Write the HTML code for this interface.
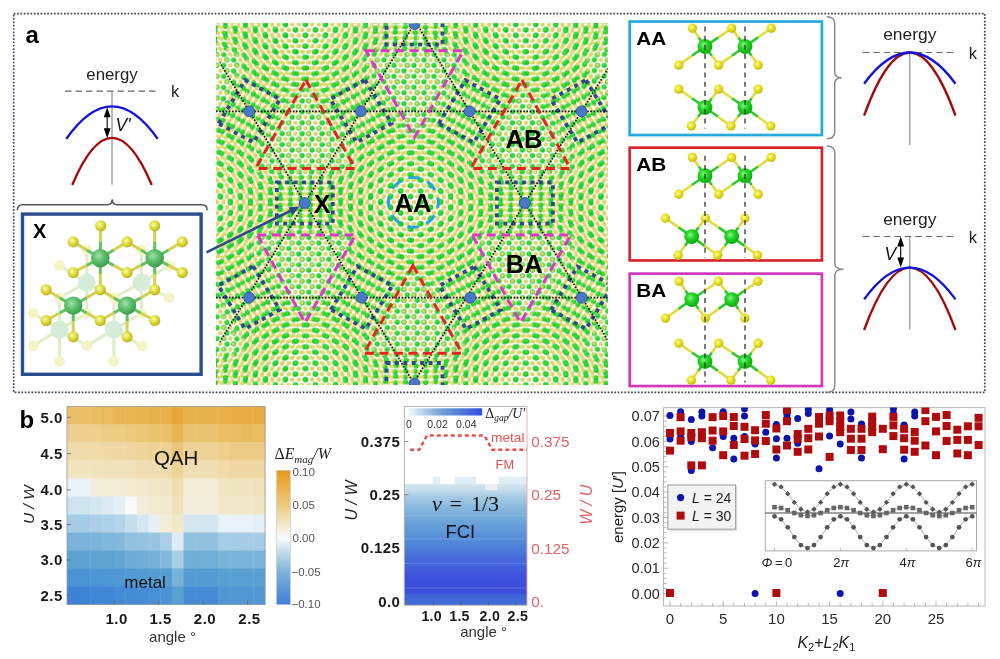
<!DOCTYPE html>
<html><head><meta charset="utf-8"><style>
html,body{margin:0;padding:0;background:#fff;width:1000px;height:659px;overflow:hidden}
svg{display:block;will-change:transform;filter:blur(0.3px)}
</style></head><body>
<svg width="1000" height="659" viewBox="0 0 1000 659">
<rect width="1000" height="659" fill="#fff"/>
<defs><radialGradient id="sg" cx="0.4" cy="0.38" r="0.62"><stop offset="0" stop-color="#8cf08c"/><stop offset="0.45" stop-color="#22d622"/><stop offset="1" stop-color="#12a812"/></radialGradient><radialGradient id="sy" cx="0.4" cy="0.38" r="0.62"><stop offset="0" stop-color="#fdfaa8"/><stop offset="0.45" stop-color="#ece426"/><stop offset="1" stop-color="#c4bc10"/></radialGradient><radialGradient id="xg" cx="0.4" cy="0.38" r="0.62"><stop offset="0" stop-color="#a4e0ac"/><stop offset="0.5" stop-color="#5ec06c"/><stop offset="1" stop-color="#3f9c4e"/></radialGradient><radialGradient id="xy" cx="0.4" cy="0.38" r="0.62"><stop offset="0" stop-color="#fafab0"/><stop offset="0.5" stop-color="#e0de40"/><stop offset="1" stop-color="#bab41c"/></radialGradient></defs>
<rect x="13.7" y="13.6" width="971.1" height="378.7" fill="none" stroke="#3d4756" stroke-width="1.7" stroke-dasharray="1.7 1.65"/>
<text x="25.5" y="42.8" font-size="24" font-family='"Liberation Sans", sans-serif' font-weight="bold" fill="#000">a</text>
<text x="112" y="79.6" font-size="16.8" font-family='"Liberation Sans", sans-serif' text-anchor="middle" fill="#222">energy</text><line x1="65" y1="91.1" x2="159" y2="91.1" stroke="#666" stroke-width="1.1" stroke-dasharray="6.5 4"/><text x="171" y="97.3" font-size="16.5" font-family='"Liberation Sans", sans-serif' fill="#222">k</text><line x1="112" y1="91.1" x2="112" y2="184.8" stroke="#777" stroke-width="1"/><path d="M72.2,185 Q112,90.80000000000001 151.8,185" fill="none" stroke="#a00c0c" stroke-width="2.4" stroke-linecap="butt"/><path d="M66.3,138.9 Q112,73.9 157.7,138.9" fill="none" stroke="#1414d8" stroke-width="2.4" stroke-linecap="butt"/><line x1="107.2" y1="115.2" x2="107.2" y2="130.2" stroke="#000" stroke-width="1.1"/><path d="M107.2,107.2 L103.8,117.2 L110.60000000000001,117.2Z M107.2,138.2 L103.8,128.2 L110.60000000000001,128.2Z" fill="#000"/><text x="115.5" y="130.5" font-size="17.5" font-family='"Liberation Sans", sans-serif' font-style="italic" fill="#111">V'</text>
<text x="909.8" y="40.3" font-size="17.4" font-family='"Liberation Sans", sans-serif' text-anchor="middle" fill="#222">energy</text><line x1="862.8" y1="52.5" x2="956.8" y2="52.5" stroke="#666" stroke-width="1.1" stroke-dasharray="6.5 4"/><text x="968.8" y="58.7" font-size="16.5" font-family='"Liberation Sans", sans-serif' fill="#222">k</text><line x1="909.8" y1="52.5" x2="909.8" y2="145.3" stroke="#777" stroke-width="1"/><path d="M864.0999999999999,115.6 Q909.8,-10.599999999999994 955.5,115.6" fill="none" stroke="#a00c0c" stroke-width="2.4" stroke-linecap="butt"/><path d="M864.0999999999999,83.7 Q909.8,21.299999999999997 955.5,83.7" fill="none" stroke="#1414d8" stroke-width="2.4" stroke-linecap="butt"/>
<text x="909.8" y="224.5" font-size="17.4" font-family='"Liberation Sans", sans-serif' text-anchor="middle" fill="#222">energy</text><line x1="862.8" y1="236.5" x2="956.8" y2="236.5" stroke="#666" stroke-width="1.1" stroke-dasharray="6.5 4"/><text x="968.8" y="242.7" font-size="16.5" font-family='"Liberation Sans", sans-serif' fill="#222">k</text><line x1="909.8" y1="236.5" x2="909.8" y2="329.6" stroke="#777" stroke-width="1"/><path d="M864.0999999999999,330 Q909.8,205.20000000000005 955.5,330" fill="none" stroke="#a00c0c" stroke-width="2.4" stroke-linecap="butt"/><path d="M864.0999999999999,299.4 Q909.8,235.80000000000007 955.5,299.4" fill="none" stroke="#1414d8" stroke-width="2.4" stroke-linecap="butt"/><line x1="900.7" y1="244.5" x2="900.7" y2="259.6" stroke="#000" stroke-width="1.1"/><path d="M900.7,236.5 L897.3000000000001,246.5 L904.1,246.5Z M900.7,267.6 L897.3000000000001,257.6 L904.1,257.6Z" fill="#000"/><text x="884.5" y="260" font-size="17.5" font-family='"Liberation Sans", sans-serif' font-style="italic" fill="#111">V</text>
<path d="M17.4,210.3 Q17.4,204.8 22.4,204.8 L107.25,204.8 Q112.25,204.8 112.25,199.3 Q112.25,204.8 117.25,204.8 L202.1,204.8 Q207.1,204.8 207.1,210.3" fill="none" stroke="#555" stroke-width="1.5"/>
<path d="M826.7,16.8 Q834.7,16.8 834.7,23.8 L834.7,71.75 Q834.7,77.75 841.6,77.75 Q834.7,77.75 834.7,83.75 L834.7,131.7 Q834.7,138.7 826.7,138.7" fill="none" stroke="#8a8a8a" stroke-width="1.5"/>
<path d="M826.8,145.9 Q834.8,145.9 834.8,152.9 L834.8,263.2 Q834.8,269.2 843.4,269.2 Q834.8,269.2 834.8,275.2 L834.8,385.5 Q834.8,392.5 826.8,392.5" fill="none" stroke="#8a8a8a" stroke-width="1.5"/>
<rect x="22.5" y="214.1" width="178.6" height="160.2" fill="#fff" stroke="#2b4d8f" stroke-width="3.4"/>
<text x="33.0" y="237.6" font-size="20" font-family='"Liberation Sans", sans-serif' font-weight="bold" fill="#000">X</text>
<line x1="86.8" y1="282.6" x2="59.5" y2="265.4" stroke="#dfeec8" stroke-width="3"/><line x1="86.8" y1="282.6" x2="86.8" y2="249.8" stroke="#dfeec8" stroke-width="3"/><line x1="86.8" y1="282.6" x2="59.5" y2="297.7" stroke="#dfeec8" stroke-width="3"/><line x1="86.8" y1="282.6" x2="113.9" y2="297.7" stroke="#dfeec8" stroke-width="3"/><line x1="86.8" y1="282.6" x2="86.8" y2="313.3" stroke="#dfeec8" stroke-width="3"/><line x1="141.5" y1="282.6" x2="169.1" y2="297.7" stroke="#dfeec8" stroke-width="3"/><line x1="141.5" y1="282.6" x2="141.5" y2="249.8" stroke="#dfeec8" stroke-width="3"/><line x1="141.5" y1="282.6" x2="113.9" y2="297.7" stroke="#dfeec8" stroke-width="3"/><line x1="141.5" y1="282.6" x2="169.1" y2="265.4" stroke="#dfeec8" stroke-width="3"/><line x1="141.5" y1="282.6" x2="141.5" y2="313.3" stroke="#dfeec8" stroke-width="3"/><line x1="59.5" y1="329.6" x2="33.1" y2="313.3" stroke="#dfeec8" stroke-width="3"/><line x1="59.5" y1="329.6" x2="33.1" y2="345.7" stroke="#dfeec8" stroke-width="3"/><line x1="59.5" y1="329.6" x2="86.8" y2="345.7" stroke="#dfeec8" stroke-width="3"/><line x1="59.5" y1="329.6" x2="59.5" y2="361.3" stroke="#dfeec8" stroke-width="3"/><line x1="59.5" y1="329.6" x2="59.5" y2="297.7" stroke="#dfeec8" stroke-width="3"/><line x1="59.5" y1="329.6" x2="86.8" y2="313.3" stroke="#dfeec8" stroke-width="3"/><line x1="113.9" y1="329.6" x2="86.8" y2="345.7" stroke="#dfeec8" stroke-width="3"/><line x1="113.9" y1="329.6" x2="141.5" y2="345.7" stroke="#dfeec8" stroke-width="3"/><line x1="113.9" y1="329.6" x2="113.9" y2="361.3" stroke="#dfeec8" stroke-width="3"/><line x1="113.9" y1="329.6" x2="113.9" y2="297.7" stroke="#dfeec8" stroke-width="3"/><line x1="113.9" y1="329.6" x2="86.8" y2="313.3" stroke="#dfeec8" stroke-width="3"/><line x1="113.9" y1="329.6" x2="141.5" y2="313.3" stroke="#dfeec8" stroke-width="3"/><circle cx="59.5" cy="265.4" r="5.3" fill="#f4f4c4" opacity="1.0"/><circle cx="86.8" cy="249.8" r="5.3" fill="#f4f4c4" opacity="1.0"/><circle cx="169.1" cy="297.7" r="5.3" fill="#f4f4c4" opacity="1.0"/><circle cx="33.1" cy="313.3" r="5.3" fill="#f4f4c4" opacity="1.0"/><circle cx="33.1" cy="345.7" r="5.3" fill="#f4f4c4" opacity="1.0"/><circle cx="86.8" cy="345.7" r="5.3" fill="#f4f4c4" opacity="1.0"/><circle cx="141.5" cy="345.7" r="5.3" fill="#f4f4c4" opacity="1.0"/><circle cx="59.5" cy="361.3" r="5.3" fill="#f4f4c4" opacity="1.0"/><circle cx="113.9" cy="361.3" r="5.3" fill="#f4f4c4" opacity="1.0"/><circle cx="141.5" cy="249.8" r="5.3" fill="#f4f4c4" opacity="1.0"/><circle cx="59.5" cy="297.7" r="5.3" fill="#f4f4c4" opacity="1.0"/><circle cx="113.9" cy="297.7" r="5.3" fill="#f4f4c4" opacity="1.0"/><circle cx="169.1" cy="265.4" r="5.3" fill="#f4f4c4" opacity="1.0"/><circle cx="86.8" cy="313.3" r="5.3" fill="#f4f4c4" opacity="1.0"/><circle cx="141.5" cy="313.3" r="5.3" fill="#f4f4c4" opacity="1.0"/><circle cx="86.8" cy="282.6" r="9" fill="#d4ecd8" opacity="1.0"/><circle cx="141.5" cy="282.6" r="9" fill="#d4ecd8" opacity="1.0"/><circle cx="59.5" cy="329.6" r="9" fill="#d4ecd8" opacity="1.0"/><circle cx="113.9" cy="329.6" r="9" fill="#d4ecd8" opacity="1.0"/><line x1="100.3" y1="258.2" x2="100.5" y2="242.0" stroke="#62c262" stroke-width="3"/><line x1="100.5" y1="242.0" x2="100.7" y2="225.8" stroke="#d4d050" stroke-width="3"/><line x1="100.3" y1="258.2" x2="86.75" y2="250.05" stroke="#62c262" stroke-width="3"/><line x1="86.75" y1="250.05" x2="73.2" y2="241.9" stroke="#d4d050" stroke-width="3"/><line x1="100.3" y1="258.2" x2="113.69999999999999" y2="250.05" stroke="#62c262" stroke-width="3"/><line x1="113.69999999999999" y1="250.05" x2="127.1" y2="241.9" stroke="#d4d050" stroke-width="3"/><line x1="100.3" y1="258.2" x2="86.75" y2="265.4" stroke="#62c262" stroke-width="3"/><line x1="86.75" y1="265.4" x2="73.2" y2="272.6" stroke="#d4d050" stroke-width="3"/><line x1="100.3" y1="258.2" x2="113.69999999999999" y2="265.4" stroke="#62c262" stroke-width="3"/><line x1="113.69999999999999" y1="265.4" x2="127.1" y2="272.6" stroke="#d4d050" stroke-width="3"/><line x1="100.3" y1="258.2" x2="100.3" y2="274.0" stroke="#62c262" stroke-width="3"/><line x1="100.3" y1="274.0" x2="100.3" y2="289.8" stroke="#d4d050" stroke-width="3"/><line x1="154.7" y1="258.2" x2="154.7" y2="242.0" stroke="#62c262" stroke-width="3"/><line x1="154.7" y1="242.0" x2="154.7" y2="225.8" stroke="#d4d050" stroke-width="3"/><line x1="154.7" y1="258.2" x2="140.89999999999998" y2="250.05" stroke="#62c262" stroke-width="3"/><line x1="140.89999999999998" y1="250.05" x2="127.1" y2="241.9" stroke="#d4d050" stroke-width="3"/><line x1="154.7" y1="258.2" x2="168.5" y2="250.05" stroke="#62c262" stroke-width="3"/><line x1="168.5" y1="250.05" x2="182.3" y2="241.9" stroke="#d4d050" stroke-width="3"/><line x1="154.7" y1="258.2" x2="140.89999999999998" y2="265.4" stroke="#62c262" stroke-width="3"/><line x1="140.89999999999998" y1="265.4" x2="127.1" y2="272.6" stroke="#d4d050" stroke-width="3"/><line x1="154.7" y1="258.2" x2="168.5" y2="265.4" stroke="#62c262" stroke-width="3"/><line x1="168.5" y1="265.4" x2="182.3" y2="272.6" stroke="#d4d050" stroke-width="3"/><line x1="154.7" y1="258.2" x2="154.7" y2="274.0" stroke="#62c262" stroke-width="3"/><line x1="154.7" y1="274.0" x2="154.7" y2="289.8" stroke="#d4d050" stroke-width="3"/><line x1="73.2" y1="305.6" x2="86.75" y2="297.70000000000005" stroke="#62c262" stroke-width="3"/><line x1="86.75" y1="297.70000000000005" x2="100.3" y2="289.8" stroke="#d4d050" stroke-width="3"/><line x1="73.2" y1="305.6" x2="59.650000000000006" y2="297.70000000000005" stroke="#62c262" stroke-width="3"/><line x1="59.650000000000006" y1="297.70000000000005" x2="46.1" y2="289.8" stroke="#d4d050" stroke-width="3"/><line x1="73.2" y1="305.6" x2="59.650000000000006" y2="313.05" stroke="#62c262" stroke-width="3"/><line x1="59.650000000000006" y1="313.05" x2="46.1" y2="320.5" stroke="#d4d050" stroke-width="3"/><line x1="73.2" y1="305.6" x2="86.75" y2="313.05" stroke="#62c262" stroke-width="3"/><line x1="86.75" y1="313.05" x2="100.3" y2="320.5" stroke="#d4d050" stroke-width="3"/><line x1="73.2" y1="305.6" x2="73.2" y2="321.20000000000005" stroke="#62c262" stroke-width="3"/><line x1="73.2" y1="321.20000000000005" x2="73.2" y2="336.8" stroke="#d4d050" stroke-width="3"/><line x1="127.1" y1="305.6" x2="113.69999999999999" y2="297.70000000000005" stroke="#62c262" stroke-width="3"/><line x1="113.69999999999999" y1="297.70000000000005" x2="100.3" y2="289.8" stroke="#d4d050" stroke-width="3"/><line x1="127.1" y1="305.6" x2="140.89999999999998" y2="297.70000000000005" stroke="#62c262" stroke-width="3"/><line x1="140.89999999999998" y1="297.70000000000005" x2="154.7" y2="289.8" stroke="#d4d050" stroke-width="3"/><line x1="127.1" y1="305.6" x2="113.69999999999999" y2="313.05" stroke="#62c262" stroke-width="3"/><line x1="113.69999999999999" y1="313.05" x2="100.3" y2="320.5" stroke="#d4d050" stroke-width="3"/><line x1="127.1" y1="305.6" x2="140.89999999999998" y2="313.05" stroke="#62c262" stroke-width="3"/><line x1="140.89999999999998" y1="313.05" x2="154.7" y2="320.5" stroke="#d4d050" stroke-width="3"/><line x1="127.1" y1="305.6" x2="127.1" y2="321.20000000000005" stroke="#62c262" stroke-width="3"/><line x1="127.1" y1="321.20000000000005" x2="127.1" y2="336.8" stroke="#d4d050" stroke-width="3"/><circle cx="100.7" cy="225.8" r="5.6" fill="url(#xy)" opacity="1.0"/><circle cx="154.7" cy="225.8" r="5.6" fill="url(#xy)" opacity="1.0"/><circle cx="73.2" cy="241.9" r="5.6" fill="url(#xy)" opacity="1.0"/><circle cx="127.1" cy="241.9" r="5.6" fill="url(#xy)" opacity="1.0"/><circle cx="182.3" cy="241.9" r="5.6" fill="url(#xy)" opacity="1.0"/><circle cx="73.2" cy="272.6" r="5.6" fill="url(#xy)" opacity="1.0"/><circle cx="127.1" cy="272.6" r="5.6" fill="url(#xy)" opacity="1.0"/><circle cx="182.3" cy="272.6" r="5.6" fill="url(#xy)" opacity="1.0"/><circle cx="100.3" cy="289.8" r="5.6" fill="url(#xy)" opacity="1.0"/><circle cx="154.7" cy="289.8" r="5.6" fill="url(#xy)" opacity="1.0"/><circle cx="46.1" cy="289.8" r="5.6" fill="url(#xy)" opacity="1.0"/><circle cx="46.1" cy="320.5" r="5.6" fill="url(#xy)" opacity="1.0"/><circle cx="100.3" cy="320.5" r="5.6" fill="url(#xy)" opacity="1.0"/><circle cx="154.7" cy="320.5" r="5.6" fill="url(#xy)" opacity="1.0"/><circle cx="73.2" cy="336.8" r="5.6" fill="url(#xy)" opacity="1.0"/><circle cx="127.1" cy="336.8" r="5.6" fill="url(#xy)" opacity="1.0"/><circle cx="100.3" cy="258.2" r="9.2" fill="url(#xg)" opacity="1.0"/><circle cx="154.7" cy="258.2" r="9.2" fill="url(#xg)" opacity="1.0"/><circle cx="73.2" cy="305.6" r="9.2" fill="url(#xg)" opacity="1.0"/><circle cx="127.1" cy="305.6" r="9.2" fill="url(#xg)" opacity="1.0"/>
<defs><radialGradient id="gy" cx="0.42" cy="0.4" r="0.6"><stop offset="0" stop-color="#e8e290"/><stop offset="0.55" stop-color="#dcd25a"/><stop offset="1" stop-color="#d2c84a"/></radialGradient><radialGradient id="gg" cx="0.42" cy="0.4" r="0.6"><stop offset="0" stop-color="#4cec52"/><stop offset="0.5" stop-color="#22d62a"/><stop offset="1" stop-color="#16b81e"/></radialGradient><pattern id="ml0" patternUnits="userSpaceOnUse" width="20.0225" height="11.5600" patternTransform="translate(414.8,203.0) rotate(-1.4987) translate(5.8,-1.14)"><circle cx="6.674" cy="0.000" r="1.95" fill="url(#gy)"/><circle cx="6.674" cy="11.560" r="1.95" fill="url(#gy)"/><circle cx="16.685" cy="5.780" r="1.95" fill="url(#gy)"/><circle cx="0.000" cy="0.000" r="2.6" fill="url(#gg)"/><circle cx="0.000" cy="11.560" r="2.6" fill="url(#gg)"/><circle cx="20.023" cy="0.000" r="2.6" fill="url(#gg)"/><circle cx="20.023" cy="11.560" r="2.6" fill="url(#gg)"/><circle cx="10.011" cy="5.780" r="2.6" fill="url(#gg)"/><circle cx="3.337" cy="5.780" r="1.95" fill="url(#gy)"/><circle cx="13.348" cy="0.000" r="1.95" fill="url(#gy)"/><circle cx="13.348" cy="11.560" r="1.95" fill="url(#gy)"/></pattern><pattern id="ml1" patternUnits="userSpaceOnUse" width="20.0225" height="11.5600" patternTransform="translate(414.8,203.0) rotate(1.4987) translate(5.8,-1.14)"><circle cx="6.674" cy="0.000" r="1.95" fill="url(#gy)"/><circle cx="6.674" cy="11.560" r="1.95" fill="url(#gy)"/><circle cx="16.685" cy="5.780" r="1.95" fill="url(#gy)"/><circle cx="0.000" cy="0.000" r="2.6" fill="url(#gg)"/><circle cx="0.000" cy="11.560" r="2.6" fill="url(#gg)"/><circle cx="20.023" cy="0.000" r="2.6" fill="url(#gg)"/><circle cx="20.023" cy="11.560" r="2.6" fill="url(#gg)"/><circle cx="10.011" cy="5.780" r="2.6" fill="url(#gg)"/><circle cx="3.337" cy="5.780" r="1.95" fill="url(#gy)"/><circle cx="13.348" cy="0.000" r="1.95" fill="url(#gy)"/><circle cx="13.348" cy="11.560" r="1.95" fill="url(#gy)"/></pattern><filter id="mblur" x="-5%" y="-5%" width="110%" height="110%"><feGaussianBlur stdDeviation="0.7"/></filter><clipPath id="mc"><rect x="216" y="23.6" width="391.5" height="361.4"/></clipPath><clipPath id="kc"><rect x="219.6" y="20" width="392" height="370"/></clipPath></defs>
<g clip-path="url(#mc)">
<g transform="translate(0,203.0) scale(1,0.945) translate(0,-203.0)">
<defs><filter id="dfe" x="-20%" y="-20%" width="140%" height="140%"><feGaussianBlur stdDeviation="5"/></filter><g id="dcell"><circle cx="6.67" cy="0.00" r="1.95" fill="url(#gy)"/><circle cx="6.67" cy="11.56" r="1.95" fill="url(#gy)"/><circle cx="16.69" cy="5.78" r="1.95" fill="url(#gy)"/><circle cx="0.00" cy="0.00" r="2.6" fill="url(#gg)"/><circle cx="0.00" cy="11.56" r="2.6" fill="url(#gg)"/><circle cx="20.02" cy="0.00" r="2.6" fill="url(#gg)"/><circle cx="20.02" cy="11.56" r="2.6" fill="url(#gg)"/><circle cx="10.01" cy="5.78" r="2.6" fill="url(#gg)"/><circle cx="3.34" cy="5.78" r="1.95" fill="url(#gy)"/><circle cx="13.35" cy="0.00" r="1.95" fill="url(#gy)"/><circle cx="13.35" cy="11.56" r="1.95" fill="url(#gy)"/></g><mask id="dm0" maskUnits="userSpaceOnUse" x="44" y="-75" width="300" height="300"><polygon points="141.9,45.4 245.7,45.4 193.8,135.4" fill="#fff" filter="url(#dfe)"/></mask><pattern id="dp0_0" patternUnits="userSpaceOnUse" width="20.0225" height="11.5600" patternTransform="translate(417.187,207.596)"><use href="#dcell"/></pattern><pattern id="dp0_1" patternUnits="userSpaceOnUse" width="20.0225" height="11.5600" patternTransform="translate(423.861,196.036)"><use href="#dcell"/></pattern><mask id="dm1" maskUnits="userSpaceOnUse" x="44" y="181" width="300" height="300"><polygon points="141.9,360.6 245.7,360.6 193.8,270.6" fill="#fff" filter="url(#dfe)"/></mask><pattern id="dp1_0" patternUnits="userSpaceOnUse" width="20.0225" height="11.5600" patternTransform="translate(423.861,207.684)"><use href="#dcell"/></pattern><pattern id="dp1_1" patternUnits="userSpaceOnUse" width="20.0225" height="11.5600" patternTransform="translate(417.187,196.124)"><use href="#dcell"/></pattern><mask id="dm2" maskUnits="userSpaceOnUse" x="154" y="-11" width="300" height="300"><polygon points="252.4,169.2 356.2,169.2 304.3,79.2" fill="#fff" filter="url(#dfe)"/></mask><pattern id="dp2_0" patternUnits="userSpaceOnUse" width="20.0225" height="11.5600" patternTransform="translate(418.894,204.728)"><use href="#dcell"/></pattern><pattern id="dp2_1" patternUnits="userSpaceOnUse" width="20.0225" height="11.5600" patternTransform="translate(422.231,198.948)"><use href="#dcell"/></pattern><mask id="dm3" maskUnits="userSpaceOnUse" x="154" y="117" width="300" height="300"><polygon points="252.4,236.8 356.2,236.8 304.3,326.8" fill="#fff" filter="url(#dfe)"/></mask><pattern id="dp3_0" patternUnits="userSpaceOnUse" width="20.0225" height="11.5600" patternTransform="translate(422.231,204.772)"><use href="#dcell"/></pattern><pattern id="dp3_1" patternUnits="userSpaceOnUse" width="20.0225" height="11.5600" patternTransform="translate(418.894,198.992)"><use href="#dcell"/></pattern><mask id="dm4" maskUnits="userSpaceOnUse" x="265" y="-75" width="300" height="300"><polygon points="362.9,45.4 466.7,45.4 414.8,135.4" fill="#fff" filter="url(#dfe)"/></mask><pattern id="dp4_0" patternUnits="userSpaceOnUse" width="20.0225" height="11.5600" patternTransform="translate(417.263,201.816)"><use href="#dcell"/></pattern><pattern id="dp4_1" patternUnits="userSpaceOnUse" width="20.0225" height="11.5600" patternTransform="translate(423.937,201.816)"><use href="#dcell"/></pattern><mask id="dm5" maskUnits="userSpaceOnUse" x="265" y="181" width="300" height="300"><polygon points="362.9,360.6 466.7,360.6 414.8,270.6" fill="#fff" filter="url(#dfe)"/></mask><pattern id="dp5_0" patternUnits="userSpaceOnUse" width="20.0225" height="11.5600" patternTransform="translate(423.937,201.904)"><use href="#dcell"/></pattern><pattern id="dp5_1" patternUnits="userSpaceOnUse" width="20.0225" height="11.5600" patternTransform="translate(417.263,201.904)"><use href="#dcell"/></pattern><mask id="dm6" maskUnits="userSpaceOnUse" x="375" y="-11" width="300" height="300"><polygon points="473.4,169.2 577.2,169.2 525.3,79.2" fill="#fff" filter="url(#dfe)"/></mask><pattern id="dp6_0" patternUnits="userSpaceOnUse" width="20.0225" height="11.5600" patternTransform="translate(418.969,198.948)"><use href="#dcell"/></pattern><pattern id="dp6_1" patternUnits="userSpaceOnUse" width="20.0225" height="11.5600" patternTransform="translate(422.306,204.728)"><use href="#dcell"/></pattern><mask id="dm7" maskUnits="userSpaceOnUse" x="375" y="117" width="300" height="300"><polygon points="473.4,236.8 577.2,236.8 525.3,326.8" fill="#fff" filter="url(#dfe)"/></mask><pattern id="dp7_0" patternUnits="userSpaceOnUse" width="20.0225" height="11.5600" patternTransform="translate(422.306,198.992)"><use href="#dcell"/></pattern><pattern id="dp7_1" patternUnits="userSpaceOnUse" width="20.0225" height="11.5600" patternTransform="translate(418.969,204.772)"><use href="#dcell"/></pattern><mask id="dm8" maskUnits="userSpaceOnUse" x="486" y="-75" width="300" height="300"><polygon points="583.9,45.4 687.7,45.4 635.8,135.4" fill="#fff" filter="url(#dfe)"/></mask><pattern id="dp8_0" patternUnits="userSpaceOnUse" width="20.0225" height="11.5600" patternTransform="translate(417.339,196.036)"><use href="#dcell"/></pattern><pattern id="dp8_1" patternUnits="userSpaceOnUse" width="20.0225" height="11.5600" patternTransform="translate(424.013,207.596)"><use href="#dcell"/></pattern><mask id="dm9" maskUnits="userSpaceOnUse" x="486" y="181" width="300" height="300"><polygon points="583.9,360.6 687.7,360.6 635.8,270.6" fill="#fff" filter="url(#dfe)"/></mask><pattern id="dp9_0" patternUnits="userSpaceOnUse" width="20.0225" height="11.5600" patternTransform="translate(424.013,196.124)"><use href="#dcell"/></pattern><pattern id="dp9_1" patternUnits="userSpaceOnUse" width="20.0225" height="11.5600" patternTransform="translate(417.339,207.684)"><use href="#dcell"/></pattern></defs>
<g filter="url(#mblur)"><rect x="200" y="-10" width="430" height="420" fill="url(#ml0)"/><rect x="200" y="-10" width="430" height="420" fill="url(#ml1)"/><g mask="url(#dm0)"><rect x="84" y="-35" width="220" height="220" fill="#fff"/><rect x="84" y="-35" width="220" height="220" fill="url(#dp0_0)"/><rect x="84" y="-35" width="220" height="220" fill="url(#dp0_1)"/></g><g mask="url(#dm1)"><rect x="84" y="221" width="220" height="220" fill="#fff"/><rect x="84" y="221" width="220" height="220" fill="url(#dp1_0)"/><rect x="84" y="221" width="220" height="220" fill="url(#dp1_1)"/></g><g mask="url(#dm2)"><rect x="194" y="29" width="220" height="220" fill="#fff"/><rect x="194" y="29" width="220" height="220" fill="url(#dp2_0)"/><rect x="194" y="29" width="220" height="220" fill="url(#dp2_1)"/></g><g mask="url(#dm3)"><rect x="194" y="157" width="220" height="220" fill="#fff"/><rect x="194" y="157" width="220" height="220" fill="url(#dp3_0)"/><rect x="194" y="157" width="220" height="220" fill="url(#dp3_1)"/></g><g mask="url(#dm4)"><rect x="305" y="-35" width="220" height="220" fill="#fff"/><rect x="305" y="-35" width="220" height="220" fill="url(#dp4_0)"/><rect x="305" y="-35" width="220" height="220" fill="url(#dp4_1)"/></g><g mask="url(#dm5)"><rect x="305" y="221" width="220" height="220" fill="#fff"/><rect x="305" y="221" width="220" height="220" fill="url(#dp5_0)"/><rect x="305" y="221" width="220" height="220" fill="url(#dp5_1)"/></g><g mask="url(#dm6)"><rect x="415" y="29" width="220" height="220" fill="#fff"/><rect x="415" y="29" width="220" height="220" fill="url(#dp6_0)"/><rect x="415" y="29" width="220" height="220" fill="url(#dp6_1)"/></g><g mask="url(#dm7)"><rect x="415" y="157" width="220" height="220" fill="#fff"/><rect x="415" y="157" width="220" height="220" fill="url(#dp7_0)"/><rect x="415" y="157" width="220" height="220" fill="url(#dp7_1)"/></g><g mask="url(#dm8)"><rect x="526" y="-35" width="220" height="220" fill="#fff"/><rect x="526" y="-35" width="220" height="220" fill="url(#dp8_0)"/><rect x="526" y="-35" width="220" height="220" fill="url(#dp8_1)"/></g><g mask="url(#dm9)"><rect x="526" y="221" width="220" height="220" fill="#fff"/><rect x="526" y="221" width="220" height="220" fill="url(#dp9_0)"/><rect x="526" y="221" width="220" height="220" fill="url(#dp9_1)"/></g></g>
</g>
<path d="M218.6,123.4 L245.1,80.1 L280.0,99.2 L253.5,142.5Z" fill="none" stroke="#2b4a86" stroke-width="3.8" stroke-dasharray="4 4.4"/><path d="M365.1,80.0 L391.6,123.3 L356.7,142.4 L330.2,99.1Z" fill="none" stroke="#2b4a86" stroke-width="3.8" stroke-dasharray="4 4.4"/><path d="M438.9,123.5 L465.4,80.2 L500.3,99.3 L473.8,142.6Z" fill="none" stroke="#2b4a86" stroke-width="3.8" stroke-dasharray="4 4.4"/><path d="M585.8,80.2 L612.3,123.5 L577.4,142.6 L550.9,99.3Z" fill="none" stroke="#2b4a86" stroke-width="3.8" stroke-dasharray="4 4.4"/><path d="M276.8,182.4 L332.8,182.4 L332.8,223.6 L276.8,223.6Z" fill="none" stroke="#2b4a86" stroke-width="3.8" stroke-dasharray="4 4.4"/><path d="M496.9,182.4 L552.9,182.4 L552.9,223.6 L496.9,223.6Z" fill="none" stroke="#2b4a86" stroke-width="3.8" stroke-dasharray="4 4.4"/><path d="M253.3,266.4 L279.8,309.7 L244.9,328.8 L218.4,285.5Z" fill="none" stroke="#2b4a86" stroke-width="3.8" stroke-dasharray="4 4.4"/><path d="M330.9,309.7 L357.4,266.4 L392.3,285.5 L365.8,328.8Z" fill="none" stroke="#2b4a86" stroke-width="3.8" stroke-dasharray="4 4.4"/><path d="M474.4,266.6 L500.9,309.9 L466.0,329.0 L439.5,285.7Z" fill="none" stroke="#2b4a86" stroke-width="3.8" stroke-dasharray="4 4.4"/><path d="M551.1,309.9 L577.6,266.6 L612.5,285.7 L586.0,329.0Z" fill="none" stroke="#2b4a86" stroke-width="3.8" stroke-dasharray="4 4.4"/><path d="M386.5,3.4 L442.5,3.4 L442.5,44.6 L386.5,44.6Z" fill="none" stroke="#2b4a86" stroke-width="3.8" stroke-dasharray="4 4.4"/><path d="M386.5,363.0 L442.5,363.0 L442.5,404.2 L386.5,404.2Z" fill="none" stroke="#2b4a86" stroke-width="3.8" stroke-dasharray="4 4.4"/>
<line x1="216" y1="111.3" x2="608" y2="111.3" stroke="#111" stroke-width="1.7" stroke-dasharray="1.6 1.6"/><line x1="216" y1="297.7" x2="608" y2="297.7" stroke="#111" stroke-width="1.7" stroke-dasharray="1.6 1.6"/><g clip-path="url(#kc)"><line x1="96.2" y1="544.3" x2="513.4" y2="-138.3" stroke="#111" stroke-width="1.7" stroke-dasharray="1.6 1.6"/><line x1="511.9" y1="545.2" x2="97.7" y2="-139.2" stroke="#111" stroke-width="1.7" stroke-dasharray="1.6 1.6"/><line x1="731.6" y1="545.4" x2="318.2" y2="-139.4" stroke="#111" stroke-width="1.7" stroke-dasharray="1.6 1.6"/><line x1="314.4" y1="543.1" x2="735.4" y2="-137.1" stroke="#111" stroke-width="1.7" stroke-dasharray="1.6 1.6"/></g>
<path d="M306,80 L355,168.4 L255.6,168.4Z" fill="none" stroke="#e3261c" stroke-width="3" stroke-dasharray="9 5.5"/>
<path d="M522,80 L570.2,168.4 L470.7,168.4Z" fill="none" stroke="#e3261c" stroke-width="3" stroke-dasharray="9 5.5"/>
<path d="M413,265.5 L462,353.2 L364,353.2Z" fill="none" stroke="#e3261c" stroke-width="3" stroke-dasharray="9 5.5"/>
<path d="M366,50.8 L463.3,50.8 L414.5,137.5Z" fill="none" stroke="#d93ac3" stroke-width="3" stroke-dasharray="9 5.5"/>
<path d="M257.4,234.9 L355.5,234.9 L305,322.8Z" fill="none" stroke="#d93ac3" stroke-width="3" stroke-dasharray="9 5.5"/>
<path d="M472.2,234.9 L570.8,234.9 L520.5,322.8Z" fill="none" stroke="#d93ac3" stroke-width="3" stroke-dasharray="9 5.5"/>
<circle cx="413.4" cy="202.3" r="24.9" fill="none" stroke="#27a5d8" stroke-width="3" stroke-dasharray="11.6 7.96" stroke-dashoffset="5.8"/>
<circle cx="249.3" cy="111.3" r="5.4" fill="#4a78c8" stroke="#2f5597" stroke-width="1"/><circle cx="360.9" cy="111.2" r="5.4" fill="#4a78c8" stroke="#2f5597" stroke-width="1"/><circle cx="469.6" cy="111.4" r="5.4" fill="#4a78c8" stroke="#2f5597" stroke-width="1"/><circle cx="581.6" cy="111.4" r="5.4" fill="#4a78c8" stroke="#2f5597" stroke-width="1"/><circle cx="304.8" cy="203.0" r="5.4" fill="#4a78c8" stroke="#2f5597" stroke-width="1"/><circle cx="524.9" cy="203.0" r="5.4" fill="#4a78c8" stroke="#2f5597" stroke-width="1"/><circle cx="249.1" cy="297.6" r="5.4" fill="#4a78c8" stroke="#2f5597" stroke-width="1"/><circle cx="361.6" cy="297.6" r="5.4" fill="#4a78c8" stroke="#2f5597" stroke-width="1"/><circle cx="470.2" cy="297.8" r="5.4" fill="#4a78c8" stroke="#2f5597" stroke-width="1"/><circle cx="581.8" cy="297.8" r="5.4" fill="#4a78c8" stroke="#2f5597" stroke-width="1"/><circle cx="414.5" cy="24.0" r="5.4" fill="#4a78c8" stroke="#2f5597" stroke-width="1"/><circle cx="414.5" cy="383.6" r="5.4" fill="#4a78c8" stroke="#2f5597" stroke-width="1"/>
</g>
<text x="413" y="211.9" font-size="25.5" font-family='"Liberation Sans", sans-serif' font-weight="bold" text-anchor="middle" fill="#000">AA</text>
<text x="524" y="148.1" font-size="25.5" font-family='"Liberation Sans", sans-serif' font-weight="bold" text-anchor="middle" fill="#000">AB</text>
<text x="524.2" y="272.8" font-size="25.5" font-family='"Liberation Sans", sans-serif' font-weight="bold" text-anchor="middle" fill="#000">BA</text>
<text x="322.2" y="212.6" font-size="25" font-family='"Liberation Sans", sans-serif' font-weight="bold" text-anchor="middle" fill="#000">X</text>
<line x1="206.5" y1="252.3" x2="292" y2="210.2" stroke="#2b4a86" stroke-width="2.6"/>
<path d="M299.5,206.6 L288.5,207.3 L292.6,215.6Z" fill="#2b4a86"/>
<rect x="629.7" y="21.55" width="192.2" height="113.5" fill="#fff" stroke="#26a9dc" stroke-width="2.7"/><text x="0" y="0" font-size="17.6" font-family='"Liberation Sans", sans-serif' font-weight="bold" fill="#000" transform="translate(636.3,44.5) scale(1.18,1)">AA</text><line x1="705" y1="46.5" x2="698.7" y2="37.4" stroke="#2ec82e" stroke-width="2.6"/><line x1="698.7" y1="37.4" x2="692.4" y2="28.2" stroke="#e0dc40" stroke-width="2.6"/><line x1="705" y1="46.5" x2="718.4" y2="37.4" stroke="#2ec82e" stroke-width="2.6"/><line x1="718.4" y1="37.4" x2="731.7" y2="28.2" stroke="#e0dc40" stroke-width="2.6"/><line x1="705" y1="46.5" x2="691.9" y2="55.8" stroke="#2ec82e" stroke-width="2.6"/><line x1="691.9" y1="55.8" x2="678.8" y2="65.1" stroke="#e0dc40" stroke-width="2.6"/><line x1="705" y1="46.5" x2="711.9" y2="55.8" stroke="#2ec82e" stroke-width="2.6"/><line x1="711.9" y1="55.8" x2="718.7" y2="65.1" stroke="#e0dc40" stroke-width="2.6"/><line x1="745" y1="46.5" x2="738.4" y2="37.4" stroke="#2ec82e" stroke-width="2.6"/><line x1="738.4" y1="37.4" x2="731.7" y2="28.2" stroke="#e0dc40" stroke-width="2.6"/><line x1="745" y1="46.5" x2="758.1" y2="37.4" stroke="#2ec82e" stroke-width="2.6"/><line x1="758.1" y1="37.4" x2="771.2" y2="28.2" stroke="#e0dc40" stroke-width="2.6"/><line x1="745" y1="46.5" x2="731.9" y2="55.8" stroke="#2ec82e" stroke-width="2.6"/><line x1="731.9" y1="55.8" x2="718.7" y2="65.1" stroke="#e0dc40" stroke-width="2.6"/><line x1="745" y1="46.5" x2="751.6" y2="55.8" stroke="#2ec82e" stroke-width="2.6"/><line x1="751.6" y1="55.8" x2="758.2" y2="65.1" stroke="#e0dc40" stroke-width="2.6"/><circle cx="692.4" cy="28.2" r="4.7" fill="url(#sy)" opacity="1.0"/><circle cx="731.7" cy="28.2" r="4.7" fill="url(#sy)" opacity="1.0"/><circle cx="771.2" cy="28.2" r="4.7" fill="url(#sy)" opacity="1.0"/><circle cx="678.8" cy="65.1" r="4.7" fill="url(#sy)" opacity="1.0"/><circle cx="718.7" cy="65.1" r="4.7" fill="url(#sy)" opacity="1.0"/><circle cx="758.2" cy="65.1" r="4.7" fill="url(#sy)" opacity="1.0"/><circle cx="705" cy="46.5" r="7.4" fill="url(#sg)" opacity="1.0"/><circle cx="745" cy="46.5" r="7.4" fill="url(#sg)" opacity="1.0"/><line x1="705" y1="107.4" x2="691.9" y2="98.2" stroke="#2ec82e" stroke-width="2.6"/><line x1="691.9" y1="98.2" x2="678.8" y2="89.10000000000001" stroke="#e0dc40" stroke-width="2.6"/><line x1="705" y1="107.4" x2="711.9" y2="98.2" stroke="#2ec82e" stroke-width="2.6"/><line x1="711.9" y1="98.2" x2="718.7" y2="89.10000000000001" stroke="#e0dc40" stroke-width="2.6"/><line x1="705" y1="107.4" x2="698.2" y2="116.7" stroke="#2ec82e" stroke-width="2.6"/><line x1="698.2" y1="116.7" x2="691.4" y2="126.0" stroke="#e0dc40" stroke-width="2.6"/><line x1="705" y1="107.4" x2="718.0" y2="116.7" stroke="#2ec82e" stroke-width="2.6"/><line x1="718.0" y1="116.7" x2="730.9" y2="126.0" stroke="#e0dc40" stroke-width="2.6"/><line x1="745" y1="107.4" x2="731.9" y2="98.2" stroke="#2ec82e" stroke-width="2.6"/><line x1="731.9" y1="98.2" x2="718.7" y2="89.10000000000001" stroke="#e0dc40" stroke-width="2.6"/><line x1="745" y1="107.4" x2="751.6" y2="98.2" stroke="#2ec82e" stroke-width="2.6"/><line x1="751.6" y1="98.2" x2="758.2" y2="89.10000000000001" stroke="#e0dc40" stroke-width="2.6"/><line x1="745" y1="107.4" x2="738.0" y2="116.7" stroke="#2ec82e" stroke-width="2.6"/><line x1="738.0" y1="116.7" x2="730.9" y2="126.0" stroke="#e0dc40" stroke-width="2.6"/><line x1="745" y1="107.4" x2="757.9" y2="116.7" stroke="#2ec82e" stroke-width="2.6"/><line x1="757.9" y1="116.7" x2="770.8" y2="126.0" stroke="#e0dc40" stroke-width="2.6"/><circle cx="678.8" cy="89.10000000000001" r="4.7" fill="url(#sy)" opacity="1.0"/><circle cx="718.7" cy="89.10000000000001" r="4.7" fill="url(#sy)" opacity="1.0"/><circle cx="758.2" cy="89.10000000000001" r="4.7" fill="url(#sy)" opacity="1.0"/><circle cx="691.4" cy="126.0" r="4.7" fill="url(#sy)" opacity="1.0"/><circle cx="730.9" cy="126.0" r="4.7" fill="url(#sy)" opacity="1.0"/><circle cx="770.8" cy="126.0" r="4.7" fill="url(#sy)" opacity="1.0"/><circle cx="705" cy="107.4" r="7.4" fill="url(#sg)" opacity="1.0"/><circle cx="745" cy="107.4" r="7.4" fill="url(#sg)" opacity="1.0"/><line x1="705" y1="26.5" x2="705" y2="128.4" stroke="#333" stroke-width="1.3" stroke-dasharray="5 4.2"/><line x1="745" y1="26.5" x2="745" y2="128.4" stroke="#333" stroke-width="1.3" stroke-dasharray="5 4.2"/>
<rect x="629.7" y="147.65" width="192.2" height="112.8" fill="#fff" stroke="#d6262a" stroke-width="2.7"/><text x="0" y="0" font-size="17.6" font-family='"Liberation Sans", sans-serif' font-weight="bold" fill="#000" transform="translate(636.3,170.6) scale(1.18,1)">AB</text><line x1="705" y1="175.7" x2="698.7" y2="166.5" stroke="#2ec82e" stroke-width="2.6"/><line x1="698.7" y1="166.5" x2="692.4" y2="157.39999999999998" stroke="#e0dc40" stroke-width="2.6"/><line x1="705" y1="175.7" x2="718.4" y2="166.5" stroke="#2ec82e" stroke-width="2.6"/><line x1="718.4" y1="166.5" x2="731.7" y2="157.39999999999998" stroke="#e0dc40" stroke-width="2.6"/><line x1="705" y1="175.7" x2="691.9" y2="185.0" stroke="#2ec82e" stroke-width="2.6"/><line x1="691.9" y1="185.0" x2="678.8" y2="194.29999999999998" stroke="#e0dc40" stroke-width="2.6"/><line x1="705" y1="175.7" x2="711.9" y2="185.0" stroke="#2ec82e" stroke-width="2.6"/><line x1="711.9" y1="185.0" x2="718.7" y2="194.29999999999998" stroke="#e0dc40" stroke-width="2.6"/><line x1="745" y1="175.7" x2="738.4" y2="166.5" stroke="#2ec82e" stroke-width="2.6"/><line x1="738.4" y1="166.5" x2="731.7" y2="157.39999999999998" stroke="#e0dc40" stroke-width="2.6"/><line x1="745" y1="175.7" x2="758.1" y2="166.5" stroke="#2ec82e" stroke-width="2.6"/><line x1="758.1" y1="166.5" x2="771.2" y2="157.39999999999998" stroke="#e0dc40" stroke-width="2.6"/><line x1="745" y1="175.7" x2="731.9" y2="185.0" stroke="#2ec82e" stroke-width="2.6"/><line x1="731.9" y1="185.0" x2="718.7" y2="194.29999999999998" stroke="#e0dc40" stroke-width="2.6"/><line x1="745" y1="175.7" x2="751.6" y2="185.0" stroke="#2ec82e" stroke-width="2.6"/><line x1="751.6" y1="185.0" x2="758.2" y2="194.29999999999998" stroke="#e0dc40" stroke-width="2.6"/><circle cx="692.4" cy="157.39999999999998" r="4.7" fill="url(#sy)" opacity="1.0"/><circle cx="731.7" cy="157.39999999999998" r="4.7" fill="url(#sy)" opacity="1.0"/><circle cx="771.2" cy="157.39999999999998" r="4.7" fill="url(#sy)" opacity="1.0"/><circle cx="678.8" cy="194.29999999999998" r="4.7" fill="url(#sy)" opacity="1.0"/><circle cx="718.7" cy="194.29999999999998" r="4.7" fill="url(#sy)" opacity="1.0"/><circle cx="758.2" cy="194.29999999999998" r="4.7" fill="url(#sy)" opacity="1.0"/><circle cx="705" cy="175.7" r="7.4" fill="url(#sg)" opacity="1.0"/><circle cx="745" cy="175.7" r="7.4" fill="url(#sg)" opacity="1.0"/><line x1="691.7" y1="236.6" x2="678.6" y2="227.4" stroke="#2ec82e" stroke-width="2.6"/><line x1="678.6" y1="227.4" x2="665.5" y2="218.29999999999998" stroke="#e0dc40" stroke-width="2.6"/><line x1="691.7" y1="236.6" x2="698.6" y2="227.4" stroke="#2ec82e" stroke-width="2.6"/><line x1="698.6" y1="227.4" x2="705.4000000000001" y2="218.29999999999998" stroke="#e0dc40" stroke-width="2.6"/><line x1="691.7" y1="236.6" x2="684.9" y2="245.9" stroke="#2ec82e" stroke-width="2.6"/><line x1="684.9" y1="245.9" x2="678.1" y2="255.2" stroke="#e0dc40" stroke-width="2.6"/><line x1="691.7" y1="236.6" x2="704.7" y2="245.9" stroke="#2ec82e" stroke-width="2.6"/><line x1="704.7" y1="245.9" x2="717.6" y2="255.2" stroke="#e0dc40" stroke-width="2.6"/><line x1="731.7" y1="236.6" x2="718.6" y2="227.4" stroke="#2ec82e" stroke-width="2.6"/><line x1="718.6" y1="227.4" x2="705.4000000000001" y2="218.29999999999998" stroke="#e0dc40" stroke-width="2.6"/><line x1="731.7" y1="236.6" x2="738.3" y2="227.4" stroke="#2ec82e" stroke-width="2.6"/><line x1="738.3" y1="227.4" x2="744.9000000000001" y2="218.29999999999998" stroke="#e0dc40" stroke-width="2.6"/><line x1="731.7" y1="236.6" x2="724.7" y2="245.9" stroke="#2ec82e" stroke-width="2.6"/><line x1="724.7" y1="245.9" x2="717.6" y2="255.2" stroke="#e0dc40" stroke-width="2.6"/><line x1="731.7" y1="236.6" x2="744.6" y2="245.9" stroke="#2ec82e" stroke-width="2.6"/><line x1="744.6" y1="245.9" x2="757.5" y2="255.2" stroke="#e0dc40" stroke-width="2.6"/><circle cx="665.5" cy="218.29999999999998" r="4.7" fill="url(#sy)" opacity="1.0"/><circle cx="705.4000000000001" cy="218.29999999999998" r="4.7" fill="url(#sy)" opacity="1.0"/><circle cx="744.9000000000001" cy="218.29999999999998" r="4.7" fill="url(#sy)" opacity="1.0"/><circle cx="678.1" cy="255.2" r="4.7" fill="url(#sy)" opacity="1.0"/><circle cx="717.6" cy="255.2" r="4.7" fill="url(#sy)" opacity="1.0"/><circle cx="757.5" cy="255.2" r="4.7" fill="url(#sy)" opacity="1.0"/><circle cx="691.7" cy="236.6" r="7.4" fill="url(#sg)" opacity="1.0"/><circle cx="731.7" cy="236.6" r="7.4" fill="url(#sg)" opacity="1.0"/><line x1="705" y1="155.7" x2="705" y2="257.6" stroke="#333" stroke-width="1.3" stroke-dasharray="5 4.2"/><line x1="745" y1="155.7" x2="745" y2="257.6" stroke="#333" stroke-width="1.3" stroke-dasharray="5 4.2"/>
<rect x="629.7" y="273.65000000000003" width="192.2" height="112.4" fill="#fff" stroke="#d038be" stroke-width="2.7"/><text x="0" y="0" font-size="17.6" font-family='"Liberation Sans", sans-serif' font-weight="bold" fill="#000" transform="translate(636.3,296.6) scale(1.18,1)">BA</text><line x1="691.7" y1="299.6" x2="685.4" y2="290.5" stroke="#2ec82e" stroke-width="2.6"/><line x1="685.4" y1="290.5" x2="679.1" y2="281.3" stroke="#e0dc40" stroke-width="2.6"/><line x1="691.7" y1="299.6" x2="705.1" y2="290.5" stroke="#2ec82e" stroke-width="2.6"/><line x1="705.1" y1="290.5" x2="718.4000000000001" y2="281.3" stroke="#e0dc40" stroke-width="2.6"/><line x1="691.7" y1="299.6" x2="678.6" y2="308.9" stroke="#2ec82e" stroke-width="2.6"/><line x1="678.6" y1="308.9" x2="665.5" y2="318.20000000000005" stroke="#e0dc40" stroke-width="2.6"/><line x1="691.7" y1="299.6" x2="698.6" y2="308.9" stroke="#2ec82e" stroke-width="2.6"/><line x1="698.6" y1="308.9" x2="705.4000000000001" y2="318.20000000000005" stroke="#e0dc40" stroke-width="2.6"/><line x1="731.7" y1="299.6" x2="725.1" y2="290.5" stroke="#2ec82e" stroke-width="2.6"/><line x1="725.1" y1="290.5" x2="718.4000000000001" y2="281.3" stroke="#e0dc40" stroke-width="2.6"/><line x1="731.7" y1="299.6" x2="744.8" y2="290.5" stroke="#2ec82e" stroke-width="2.6"/><line x1="744.8" y1="290.5" x2="757.9000000000001" y2="281.3" stroke="#e0dc40" stroke-width="2.6"/><line x1="731.7" y1="299.6" x2="718.6" y2="308.9" stroke="#2ec82e" stroke-width="2.6"/><line x1="718.6" y1="308.9" x2="705.4000000000001" y2="318.20000000000005" stroke="#e0dc40" stroke-width="2.6"/><line x1="731.7" y1="299.6" x2="738.3" y2="308.9" stroke="#2ec82e" stroke-width="2.6"/><line x1="738.3" y1="308.9" x2="744.9000000000001" y2="318.20000000000005" stroke="#e0dc40" stroke-width="2.6"/><circle cx="679.1" cy="281.3" r="4.7" fill="url(#sy)" opacity="1.0"/><circle cx="718.4000000000001" cy="281.3" r="4.7" fill="url(#sy)" opacity="1.0"/><circle cx="757.9000000000001" cy="281.3" r="4.7" fill="url(#sy)" opacity="1.0"/><circle cx="665.5" cy="318.20000000000005" r="4.7" fill="url(#sy)" opacity="1.0"/><circle cx="705.4000000000001" cy="318.20000000000005" r="4.7" fill="url(#sy)" opacity="1.0"/><circle cx="744.9000000000001" cy="318.20000000000005" r="4.7" fill="url(#sy)" opacity="1.0"/><circle cx="691.7" cy="299.6" r="7.4" fill="url(#sg)" opacity="1.0"/><circle cx="731.7" cy="299.6" r="7.4" fill="url(#sg)" opacity="1.0"/><line x1="705" y1="361.6" x2="691.9" y2="352.5" stroke="#2ec82e" stroke-width="2.6"/><line x1="691.9" y1="352.5" x2="678.8" y2="343.3" stroke="#e0dc40" stroke-width="2.6"/><line x1="705" y1="361.6" x2="711.9" y2="352.5" stroke="#2ec82e" stroke-width="2.6"/><line x1="711.9" y1="352.5" x2="718.7" y2="343.3" stroke="#e0dc40" stroke-width="2.6"/><line x1="705" y1="361.6" x2="698.2" y2="370.9" stroke="#2ec82e" stroke-width="2.6"/><line x1="698.2" y1="370.9" x2="691.4" y2="380.20000000000005" stroke="#e0dc40" stroke-width="2.6"/><line x1="705" y1="361.6" x2="718.0" y2="370.9" stroke="#2ec82e" stroke-width="2.6"/><line x1="718.0" y1="370.9" x2="730.9" y2="380.20000000000005" stroke="#e0dc40" stroke-width="2.6"/><line x1="745" y1="361.6" x2="731.9" y2="352.5" stroke="#2ec82e" stroke-width="2.6"/><line x1="731.9" y1="352.5" x2="718.7" y2="343.3" stroke="#e0dc40" stroke-width="2.6"/><line x1="745" y1="361.6" x2="751.6" y2="352.5" stroke="#2ec82e" stroke-width="2.6"/><line x1="751.6" y1="352.5" x2="758.2" y2="343.3" stroke="#e0dc40" stroke-width="2.6"/><line x1="745" y1="361.6" x2="738.0" y2="370.9" stroke="#2ec82e" stroke-width="2.6"/><line x1="738.0" y1="370.9" x2="730.9" y2="380.20000000000005" stroke="#e0dc40" stroke-width="2.6"/><line x1="745" y1="361.6" x2="757.9" y2="370.9" stroke="#2ec82e" stroke-width="2.6"/><line x1="757.9" y1="370.9" x2="770.8" y2="380.20000000000005" stroke="#e0dc40" stroke-width="2.6"/><circle cx="678.8" cy="343.3" r="4.7" fill="url(#sy)" opacity="1.0"/><circle cx="718.7" cy="343.3" r="4.7" fill="url(#sy)" opacity="1.0"/><circle cx="758.2" cy="343.3" r="4.7" fill="url(#sy)" opacity="1.0"/><circle cx="691.4" cy="380.20000000000005" r="4.7" fill="url(#sy)" opacity="1.0"/><circle cx="730.9" cy="380.20000000000005" r="4.7" fill="url(#sy)" opacity="1.0"/><circle cx="770.8" cy="380.20000000000005" r="4.7" fill="url(#sy)" opacity="1.0"/><circle cx="705" cy="361.6" r="7.4" fill="url(#sg)" opacity="1.0"/><circle cx="745" cy="361.6" r="7.4" fill="url(#sg)" opacity="1.0"/><line x1="705" y1="279.6" x2="705" y2="382.6" stroke="#333" stroke-width="1.3" stroke-dasharray="5 4.2"/><line x1="745" y1="279.6" x2="745" y2="382.6" stroke="#333" stroke-width="1.3" stroke-dasharray="5 4.2"/>
<text x="19.5" y="427.8" font-size="24" font-family='"Liberation Sans", sans-serif' font-weight="bold" fill="#000">b</text>
<rect x="67.00" y="406.40" width="12.05" height="18.42" fill="#eac069"/><rect x="78.65" y="406.40" width="12.05" height="18.42" fill="#eabf65"/><rect x="90.29" y="406.40" width="12.05" height="18.42" fill="#e9bd62"/><rect x="101.94" y="406.40" width="12.05" height="18.42" fill="#e9bb5e"/><rect x="113.59" y="406.40" width="12.05" height="18.42" fill="#e8b655"/><rect x="125.24" y="406.40" width="12.05" height="18.42" fill="#e8b653"/><rect x="136.88" y="406.40" width="12.05" height="18.42" fill="#e7b450"/><rect x="148.53" y="406.40" width="12.05" height="18.42" fill="#e7b24c"/><rect x="160.18" y="406.40" width="12.05" height="18.42" fill="#e7b049"/><rect x="171.82" y="406.40" width="12.05" height="18.42" fill="#e5a739"/><rect x="183.47" y="406.40" width="12.05" height="18.42" fill="#e7b24c"/><rect x="195.12" y="406.40" width="12.05" height="18.42" fill="#e7b24c"/><rect x="206.76" y="406.40" width="12.05" height="18.42" fill="#e7b24c"/><rect x="218.41" y="406.40" width="12.05" height="18.42" fill="#e6af47"/><rect x="230.06" y="406.40" width="12.05" height="18.42" fill="#e6ae44"/><rect x="241.71" y="406.40" width="12.05" height="18.42" fill="#e6ad42"/><rect x="253.35" y="406.40" width="12.05" height="18.42" fill="#e6ac41"/><rect x="67.00" y="424.42" width="12.05" height="18.42" fill="#edd08f"/><rect x="78.65" y="424.42" width="12.05" height="18.42" fill="#edcf8d"/><rect x="90.29" y="424.42" width="12.05" height="18.42" fill="#edce8a"/><rect x="101.94" y="424.42" width="12.05" height="18.42" fill="#eccc86"/><rect x="113.59" y="424.42" width="12.05" height="18.42" fill="#eccb82"/><rect x="125.24" y="424.42" width="12.05" height="18.42" fill="#ecc97d"/><rect x="136.88" y="424.42" width="12.05" height="18.42" fill="#ebc674"/><rect x="148.53" y="424.42" width="12.05" height="18.42" fill="#ebc470"/><rect x="160.18" y="424.42" width="12.05" height="18.42" fill="#ebc26c"/><rect x="171.82" y="424.42" width="12.05" height="18.42" fill="#e8b655"/><rect x="183.47" y="424.42" width="12.05" height="18.42" fill="#ebc470"/><rect x="195.12" y="424.42" width="12.05" height="18.42" fill="#ebc470"/><rect x="206.76" y="424.42" width="12.05" height="18.42" fill="#ebc470"/><rect x="218.41" y="424.42" width="12.05" height="18.42" fill="#eabf65"/><rect x="230.06" y="424.42" width="12.05" height="18.42" fill="#e9bd62"/><rect x="241.71" y="424.42" width="12.05" height="18.42" fill="#e9bb5e"/><rect x="253.35" y="424.42" width="12.05" height="18.42" fill="#e9bb5e"/><rect x="67.00" y="442.44" width="12.05" height="18.42" fill="#efdcac"/><rect x="78.65" y="442.44" width="12.05" height="18.42" fill="#efdbaa"/><rect x="90.29" y="442.44" width="12.05" height="18.42" fill="#efdaa8"/><rect x="101.94" y="442.44" width="12.05" height="18.42" fill="#efd9a6"/><rect x="113.59" y="442.44" width="12.05" height="18.42" fill="#efd8a4"/><rect x="125.24" y="442.44" width="12.05" height="18.42" fill="#eed7a0"/><rect x="136.88" y="442.44" width="12.05" height="18.42" fill="#eed59c"/><rect x="148.53" y="442.44" width="12.05" height="18.42" fill="#eed398"/><rect x="160.18" y="442.44" width="12.05" height="18.42" fill="#edd293"/><rect x="171.82" y="442.44" width="12.05" height="18.42" fill="#ebc674"/><rect x="183.47" y="442.44" width="12.05" height="18.42" fill="#eed398"/><rect x="195.12" y="442.44" width="12.05" height="18.42" fill="#eed398"/><rect x="206.76" y="442.44" width="12.05" height="18.42" fill="#eed398"/><rect x="218.41" y="442.44" width="12.05" height="18.42" fill="#edce8a"/><rect x="230.06" y="442.44" width="12.05" height="18.42" fill="#eccc86"/><rect x="241.71" y="442.44" width="12.05" height="18.42" fill="#eccc86"/><rect x="253.35" y="442.44" width="12.05" height="18.42" fill="#eccc86"/><rect x="67.00" y="460.45" width="12.05" height="18.42" fill="#f1e4c0"/><rect x="78.65" y="460.45" width="12.05" height="18.42" fill="#f1e4c0"/><rect x="90.29" y="460.45" width="12.05" height="18.42" fill="#f1e3be"/><rect x="101.94" y="460.45" width="12.05" height="18.42" fill="#f0e3bc"/><rect x="113.59" y="460.45" width="12.05" height="18.42" fill="#f0e2ba"/><rect x="125.24" y="460.45" width="12.05" height="18.42" fill="#f0e1b8"/><rect x="136.88" y="460.45" width="12.05" height="18.42" fill="#f0deb2"/><rect x="148.53" y="460.45" width="12.05" height="18.42" fill="#f0deb0"/><rect x="160.18" y="460.45" width="12.05" height="18.42" fill="#efddae"/><rect x="171.82" y="460.45" width="12.05" height="18.42" fill="#eed398"/><rect x="183.47" y="460.45" width="12.05" height="18.42" fill="#f0deb2"/><rect x="195.12" y="460.45" width="12.05" height="18.42" fill="#f0deb2"/><rect x="206.76" y="460.45" width="12.05" height="18.42" fill="#f0deb2"/><rect x="218.41" y="460.45" width="12.05" height="18.42" fill="#efdaa8"/><rect x="230.06" y="460.45" width="12.05" height="18.42" fill="#efd8a4"/><rect x="241.71" y="460.45" width="12.05" height="18.42" fill="#efd8a4"/><rect x="253.35" y="460.45" width="12.05" height="18.42" fill="#efd8a4"/><rect x="67.00" y="478.47" width="12.05" height="18.42" fill="#e8f2f8"/><rect x="78.65" y="478.47" width="12.05" height="18.42" fill="#e8f2f8"/><rect x="90.29" y="478.47" width="12.05" height="18.42" fill="#f3eedc"/><rect x="101.94" y="478.47" width="12.05" height="18.42" fill="#f3ecd7"/><rect x="113.59" y="478.47" width="12.05" height="18.42" fill="#f2ecd5"/><rect x="125.24" y="478.47" width="12.05" height="18.42" fill="#f2ebd2"/><rect x="136.88" y="478.47" width="12.05" height="18.42" fill="#f2e9ce"/><rect x="148.53" y="478.47" width="12.05" height="18.42" fill="#f1e8c9"/><rect x="160.18" y="478.47" width="12.05" height="18.42" fill="#f1e6c4"/><rect x="171.82" y="478.47" width="12.05" height="18.42" fill="#f0deb0"/><rect x="183.47" y="478.47" width="12.05" height="18.42" fill="#f3ecd7"/><rect x="195.12" y="478.47" width="12.05" height="18.42" fill="#f3ecd7"/><rect x="206.76" y="478.47" width="12.05" height="18.42" fill="#f3ecd7"/><rect x="218.41" y="478.47" width="12.05" height="18.42" fill="#f1e6c4"/><rect x="230.06" y="478.47" width="12.05" height="18.42" fill="#f1e4c0"/><rect x="241.71" y="478.47" width="12.05" height="18.42" fill="#f1e4c0"/><rect x="253.35" y="478.47" width="12.05" height="18.42" fill="#f0e3bc"/><rect x="67.00" y="496.49" width="12.05" height="18.42" fill="#d0e4ef"/><rect x="78.65" y="496.49" width="12.05" height="18.42" fill="#d0e4ef"/><rect x="90.29" y="496.49" width="12.05" height="18.42" fill="#d4e6f0"/><rect x="101.94" y="496.49" width="12.05" height="18.42" fill="#dbeaf3"/><rect x="113.59" y="496.49" width="12.05" height="18.42" fill="#e5f0f6"/><rect x="125.24" y="496.49" width="12.05" height="18.42" fill="#f6fafd"/><rect x="136.88" y="496.49" width="12.05" height="18.42" fill="#f3ecd7"/><rect x="148.53" y="496.49" width="12.05" height="18.42" fill="#f2ebd2"/><rect x="160.18" y="496.49" width="12.05" height="18.42" fill="#f2e9ce"/><rect x="171.82" y="496.49" width="12.05" height="18.42" fill="#f0e3bc"/><rect x="183.47" y="496.49" width="12.05" height="18.42" fill="#f3eedc"/><rect x="195.12" y="496.49" width="12.05" height="18.42" fill="#f3eedc"/><rect x="206.76" y="496.49" width="12.05" height="18.42" fill="#f3eedc"/><rect x="218.41" y="496.49" width="12.05" height="18.42" fill="#f1e8c9"/><rect x="230.06" y="496.49" width="12.05" height="18.42" fill="#f1e8c9"/><rect x="241.71" y="496.49" width="12.05" height="18.42" fill="#f1e8c9"/><rect x="253.35" y="496.49" width="12.05" height="18.42" fill="#f1e6c4"/><rect x="67.00" y="514.51" width="12.05" height="18.42" fill="#a4cce5"/><rect x="78.65" y="514.51" width="12.05" height="18.42" fill="#a4cce5"/><rect x="90.29" y="514.51" width="12.05" height="18.42" fill="#a9cee6"/><rect x="101.94" y="514.51" width="12.05" height="18.42" fill="#aed1e7"/><rect x="113.59" y="514.51" width="12.05" height="18.42" fill="#b4d4e9"/><rect x="125.24" y="514.51" width="12.05" height="18.42" fill="#c6deed"/><rect x="136.88" y="514.51" width="12.05" height="18.42" fill="#d4e6f0"/><rect x="148.53" y="514.51" width="12.05" height="18.42" fill="#e5f0f6"/><rect x="160.18" y="514.51" width="12.05" height="18.42" fill="#f3ecd7"/><rect x="171.82" y="514.51" width="12.05" height="18.42" fill="#f1e8c9"/><rect x="183.47" y="514.51" width="12.05" height="18.42" fill="#d4e6f0"/><rect x="195.12" y="514.51" width="12.05" height="18.42" fill="#d4e6f0"/><rect x="206.76" y="514.51" width="12.05" height="18.42" fill="#d4e6f0"/><rect x="218.41" y="514.51" width="12.05" height="18.42" fill="#e8f2f8"/><rect x="230.06" y="514.51" width="12.05" height="18.42" fill="#e8f2f8"/><rect x="241.71" y="514.51" width="12.05" height="18.42" fill="#e8f2f8"/><rect x="253.35" y="514.51" width="12.05" height="18.42" fill="#e5f0f6"/><rect x="67.00" y="532.53" width="12.05" height="18.42" fill="#79b3da"/><rect x="78.65" y="532.53" width="12.05" height="18.42" fill="#79b3da"/><rect x="90.29" y="532.53" width="12.05" height="18.42" fill="#7db5da"/><rect x="101.94" y="532.53" width="12.05" height="18.42" fill="#80b7dc"/><rect x="113.59" y="532.53" width="12.05" height="18.42" fill="#82b8dc"/><rect x="125.24" y="532.53" width="12.05" height="18.42" fill="#92c1e0"/><rect x="136.88" y="532.53" width="12.05" height="18.42" fill="#94c2e1"/><rect x="148.53" y="532.53" width="12.05" height="18.42" fill="#99c5e2"/><rect x="160.18" y="532.53" width="12.05" height="18.42" fill="#abcfe7"/><rect x="171.82" y="532.53" width="12.05" height="18.42" fill="#deecf4"/><rect x="183.47" y="532.53" width="12.05" height="18.42" fill="#92c1e0"/><rect x="195.12" y="532.53" width="12.05" height="18.42" fill="#92c1e0"/><rect x="206.76" y="532.53" width="12.05" height="18.42" fill="#92c1e0"/><rect x="218.41" y="532.53" width="12.05" height="18.42" fill="#a7cde6"/><rect x="230.06" y="532.53" width="12.05" height="18.42" fill="#a7cde6"/><rect x="241.71" y="532.53" width="12.05" height="18.42" fill="#a7cde6"/><rect x="253.35" y="532.53" width="12.05" height="18.42" fill="#a7cde6"/><rect x="67.00" y="550.55" width="12.05" height="18.42" fill="#5ca2d2"/><rect x="78.65" y="550.55" width="12.05" height="18.42" fill="#5ca2d2"/><rect x="90.29" y="550.55" width="12.05" height="18.42" fill="#5ea4d2"/><rect x="101.94" y="550.55" width="12.05" height="18.42" fill="#5ea4d2"/><rect x="113.59" y="550.55" width="12.05" height="18.42" fill="#62a6d3"/><rect x="125.24" y="550.55" width="12.05" height="18.42" fill="#6cacd6"/><rect x="136.88" y="550.55" width="12.05" height="18.42" fill="#70aed7"/><rect x="148.53" y="550.55" width="12.05" height="18.42" fill="#74b0d8"/><rect x="160.18" y="550.55" width="12.05" height="18.42" fill="#82b8dc"/><rect x="171.82" y="550.55" width="12.05" height="18.42" fill="#a9cee6"/><rect x="183.47" y="550.55" width="12.05" height="18.42" fill="#70aed7"/><rect x="195.12" y="550.55" width="12.05" height="18.42" fill="#70aed7"/><rect x="206.76" y="550.55" width="12.05" height="18.42" fill="#70aed7"/><rect x="218.41" y="550.55" width="12.05" height="18.42" fill="#7bb4da"/><rect x="230.06" y="550.55" width="12.05" height="18.42" fill="#7bb4da"/><rect x="241.71" y="550.55" width="12.05" height="18.42" fill="#7bb4da"/><rect x="253.35" y="550.55" width="12.05" height="18.42" fill="#7bb4da"/><rect x="67.00" y="568.56" width="12.05" height="18.42" fill="#4b93d4"/><rect x="78.65" y="568.56" width="12.05" height="18.42" fill="#4b93d4"/><rect x="90.29" y="568.56" width="12.05" height="18.42" fill="#4d95d4"/><rect x="101.94" y="568.56" width="12.05" height="18.42" fill="#4e96d4"/><rect x="113.59" y="568.56" width="12.05" height="18.42" fill="#5097d4"/><rect x="125.24" y="568.56" width="12.05" height="18.42" fill="#5299d3"/><rect x="136.88" y="568.56" width="12.05" height="18.42" fill="#539ad3"/><rect x="148.53" y="568.56" width="12.05" height="18.42" fill="#549cd3"/><rect x="160.18" y="568.56" width="12.05" height="18.42" fill="#569dd3"/><rect x="171.82" y="568.56" width="12.05" height="18.42" fill="#77b2d9"/><rect x="183.47" y="568.56" width="12.05" height="18.42" fill="#549cd3"/><rect x="195.12" y="568.56" width="12.05" height="18.42" fill="#549cd3"/><rect x="206.76" y="568.56" width="12.05" height="18.42" fill="#549cd3"/><rect x="218.41" y="568.56" width="12.05" height="18.42" fill="#59a0d2"/><rect x="230.06" y="568.56" width="12.05" height="18.42" fill="#59a0d2"/><rect x="241.71" y="568.56" width="12.05" height="18.42" fill="#59a0d2"/><rect x="253.35" y="568.56" width="12.05" height="18.42" fill="#59a0d2"/><rect x="67.00" y="586.58" width="12.05" height="18.42" fill="#3f83d7"/><rect x="78.65" y="586.58" width="12.05" height="18.42" fill="#3f83d7"/><rect x="90.29" y="586.58" width="12.05" height="18.42" fill="#4085d7"/><rect x="101.94" y="586.58" width="12.05" height="18.42" fill="#4287d7"/><rect x="113.59" y="586.58" width="12.05" height="18.42" fill="#448ad6"/><rect x="125.24" y="586.58" width="12.05" height="18.42" fill="#458bd6"/><rect x="136.88" y="586.58" width="12.05" height="18.42" fill="#478dd5"/><rect x="148.53" y="586.58" width="12.05" height="18.42" fill="#4990d5"/><rect x="160.18" y="586.58" width="12.05" height="18.42" fill="#4b93d4"/><rect x="171.82" y="586.58" width="12.05" height="18.42" fill="#59a0d2"/><rect x="183.47" y="586.58" width="12.05" height="18.42" fill="#458bd6"/><rect x="195.12" y="586.58" width="12.05" height="18.42" fill="#458bd6"/><rect x="206.76" y="586.58" width="12.05" height="18.42" fill="#458bd6"/><rect x="218.41" y="586.58" width="12.05" height="18.42" fill="#5097d4"/><rect x="230.06" y="586.58" width="12.05" height="18.42" fill="#5097d4"/><rect x="241.71" y="586.58" width="12.05" height="18.42" fill="#5097d4"/><rect x="253.35" y="586.58" width="12.05" height="18.42" fill="#5097d4"/>
<rect x="67.0" y="406.4" width="198.0" height="198.20000000000005" fill="none" stroke="#9a9a9a" stroke-width="0.8"/>
<line x1="67.0" y1="417.3" x2="71.0" y2="417.3" stroke="#666" stroke-width="0.8"/><text x="62.8" y="422.5" font-size="15" font-family='"Liberation Sans", sans-serif' font-weight="bold" text-anchor="end" fill="#1a1a1a" letter-spacing="0.5">5.0</text><line x1="67.0" y1="453.6" x2="71.0" y2="453.6" stroke="#666" stroke-width="0.8"/><text x="62.8" y="458.8" font-size="15" font-family='"Liberation Sans", sans-serif' font-weight="bold" text-anchor="end" fill="#1a1a1a" letter-spacing="0.5">4.5</text><line x1="67.0" y1="489.9" x2="71.0" y2="489.9" stroke="#666" stroke-width="0.8"/><text x="62.8" y="495.09999999999997" font-size="15" font-family='"Liberation Sans", sans-serif' font-weight="bold" text-anchor="end" fill="#1a1a1a" letter-spacing="0.5">4.0</text><line x1="67.0" y1="524.5" x2="71.0" y2="524.5" stroke="#666" stroke-width="0.8"/><text x="62.8" y="529.7" font-size="15" font-family='"Liberation Sans", sans-serif' font-weight="bold" text-anchor="end" fill="#1a1a1a" letter-spacing="0.5">3.5</text><line x1="67.0" y1="560.0" x2="71.0" y2="560.0" stroke="#666" stroke-width="0.8"/><text x="62.8" y="565.2" font-size="15" font-family='"Liberation Sans", sans-serif' font-weight="bold" text-anchor="end" fill="#1a1a1a" letter-spacing="0.5">3.0</text><line x1="67.0" y1="595.3" x2="71.0" y2="595.3" stroke="#666" stroke-width="0.8"/><text x="62.8" y="600.5" font-size="15" font-family='"Liberation Sans", sans-serif' font-weight="bold" text-anchor="end" fill="#1a1a1a" letter-spacing="0.5">2.5</text><line x1="114.6" y1="604.6" x2="114.6" y2="600.6" stroke="#666" stroke-width="0.8"/><text x="116.6" y="624.0" font-size="15" font-family='"Liberation Sans", sans-serif' font-weight="bold" text-anchor="middle" fill="#1a1a1a" letter-spacing="0.5">1.0</text><line x1="158.6" y1="604.6" x2="158.6" y2="600.6" stroke="#666" stroke-width="0.8"/><text x="160.6" y="624.0" font-size="15" font-family='"Liberation Sans", sans-serif' font-weight="bold" text-anchor="middle" fill="#1a1a1a" letter-spacing="0.5">1.5</text><line x1="203.0" y1="604.6" x2="203.0" y2="600.6" stroke="#666" stroke-width="0.8"/><text x="205.0" y="624.0" font-size="15" font-family='"Liberation Sans", sans-serif' font-weight="bold" text-anchor="middle" fill="#1a1a1a" letter-spacing="0.5">2.0</text><line x1="247.5" y1="604.6" x2="247.5" y2="600.6" stroke="#666" stroke-width="0.8"/><text x="249.5" y="624.0" font-size="15" font-family='"Liberation Sans", sans-serif' font-weight="bold" text-anchor="middle" fill="#1a1a1a" letter-spacing="0.5">2.5</text>
<text x="172.5" y="642.4" font-size="15" font-family='"Liberation Sans", sans-serif' text-anchor="middle" fill="#333">angle °</text>
<text x="0" y="0" font-size="15.5" font-family='"Liberation Sans", sans-serif' font-style="italic" text-anchor="middle" fill="#222" transform="translate(34.2,504.5) rotate(-90)">U / W</text>
<text x="176.1" y="465.2" font-size="20.5" font-family='"Liberation Sans", sans-serif' text-anchor="middle" fill="#111">QAH</text>
<text x="124.3" y="588.3" font-size="17" font-family='"Liberation Sans", sans-serif' fill="#111">metal</text>
<defs><linearGradient id="cb1" x1="0" y1="0" x2="0" y2="1"><stop offset="0" stop-color="#e59a1a"/><stop offset="0.25" stop-color="#ecc878"/><stop offset="0.5" stop-color="#f8fbfd"/><stop offset="0.75" stop-color="#7fb4da"/><stop offset="1" stop-color="#3f7fd8"/></linearGradient><linearGradient id="cb2" x1="0" y1="0" x2="1" y2="0"><stop offset="0" stop-color="#f4f8fb"/><stop offset="0.45" stop-color="#6ea0d4"/><stop offset="1" stop-color="#3050e0"/></linearGradient></defs>
<rect x="276.6" y="470.4" width="13.7" height="134.2" fill="url(#cb1)" stroke="#bbb" stroke-width="0.5"/>
<text x="292.5" y="476.2" font-size="11.5" font-family='"Liberation Sans", sans-serif' fill="#555">0.10</text><text x="292.5" y="509.3" font-size="11.5" font-family='"Liberation Sans", sans-serif' fill="#555">0.05</text><text x="292.5" y="542.0" font-size="11.5" font-family='"Liberation Sans", sans-serif' fill="#555">0.00</text><text x="291.5" y="575.6" font-size="11.5" font-family='"Liberation Sans", sans-serif' fill="#555">−0.05</text><text x="291.5" y="608.3" font-size="11.5" font-family='"Liberation Sans", sans-serif' fill="#555">−0.10</text>
<text x="274.5" y="459" font-size="15.8" font-family='"Liberation Serif", serif' fill="#222">Δ<tspan font-style="italic">E</tspan><tspan font-size="11" dy="3.5" font-style="italic">mag</tspan><tspan dy="-3.5" font-style="italic">/W</tspan></text>
<defs><linearGradient id="mg" x1="0" y1="0" x2="0" y2="1"><stop offset="0" stop-color="#d2e5f0"/><stop offset="0.05" stop-color="#c4dcec"/><stop offset="0.1" stop-color="#a8cce4"/><stop offset="0.2" stop-color="#86b7dd"/><stop offset="0.32" stop-color="#6aa2d8"/><stop offset="0.48" stop-color="#5088d8"/><stop offset="0.63" stop-color="#4568db"/><stop offset="0.76" stop-color="#3f52dc"/><stop offset="0.9" stop-color="#3d4cdc"/><stop offset="0.915" stop-color="#3f64d6"/><stop offset="1" stop-color="#3f6cd4"/></linearGradient></defs>
<rect x="404.4" y="484.1" width="122.60000000000002" height="121.10000000000002" fill="url(#mg)"/>
<rect x="432.6" y="476.8" width="7.399999999999977" height="7.4" fill="#dfedf6"/>
<rect x="454.6" y="476.8" width="21.19999999999999" height="7.4" fill="#dfedf6"/>
<rect x="498.6" y="476.8" width="28.399999999999977" height="7.4" fill="#dfedf6"/>
<line x1="404.4" y1="515.7" x2="527.0" y2="515.7" stroke="#ffffff" stroke-width="0.7" opacity="0.25"/>
<line x1="404.4" y1="539" x2="527.0" y2="539" stroke="#ffffff" stroke-width="0.7" opacity="0.25"/>
<line x1="404.4" y1="563.5" x2="527.0" y2="563.5" stroke="#ffffff" stroke-width="0.7" opacity="0.25"/>
<line x1="404.4" y1="588" x2="527.0" y2="588" stroke="#ffffff" stroke-width="0.7" opacity="0.25"/>
<rect x="485" y="484.1" width="12" height="6" fill="#eaf2f8"/>
<path d="M527.0,406.4 L404.4,406.4 L404.4,605.2 L527.0,605.2" fill="none" stroke="#aaa" stroke-width="0.9"/>
<line x1="527.0" y1="406.4" x2="527.0" y2="605.2" stroke="#f2a6a6" stroke-width="0.9"/>
<rect x="408.3" y="408.3" width="73.9" height="7.2" fill="url(#cb2)"/>
<text x="408.8" y="428.0" font-size="10.5" font-family='"Liberation Sans", sans-serif' text-anchor="middle" fill="#333">0</text>
<text x="437.5" y="428.0" font-size="10.5" font-family='"Liberation Sans", sans-serif' text-anchor="middle" fill="#333">0.02</text>
<text x="466.3" y="428.0" font-size="10.5" font-family='"Liberation Sans", sans-serif' text-anchor="middle" fill="#333">0.04</text>
<text x="485.3" y="417.8" font-size="13.8" font-family='"Liberation Serif", serif' fill="#222">Δ<tspan font-size="9.5" dy="3" font-style="italic">gap</tspan><tspan dy="-3" font-style="italic">/U′</tspan></text>
<path d="M410.2,449.7 L419.3,449.7 L426.9,435.6 L484.5,435.6 L492.1,449.7 L527,449.7" fill="none" stroke="#e65050" stroke-width="2.5" stroke-dasharray="4 3"/>
<text x="491.0" y="442.2" font-size="13.7" font-family='"Liberation Sans", sans-serif' fill="#e05252">metal</text>
<text x="495.6" y="468.6" font-size="12.8" font-family='"Liberation Sans", sans-serif' fill="#e05252">FM</text>
<text x="432" y="510.5" font-size="22" font-family='"Liberation Serif", serif' font-style="italic" fill="#111">ν</text>
<text x="455.7" y="510.5" font-size="22" font-family='"Liberation Serif", serif' fill="#111" text-anchor="middle">=</text>
<text x="471" y="510.5" font-size="22" font-family='"Liberation Serif", serif' fill="#111">1/3</text>
<text x="460.3" y="538.3" font-size="18.3" font-family='"Liberation Sans", sans-serif' text-anchor="middle" fill="#111">FCI</text>
<line x1="404.4" y1="441.5" x2="408.4" y2="441.5" stroke="#777" stroke-width="0.8"/><text x="400.3" y="446.7" font-size="15" font-family='"Liberation Sans", sans-serif' font-weight="bold" text-anchor="end" fill="#1a1a1a" letter-spacing="0.4">0.375</text><line x1="404.4" y1="494.8" x2="408.4" y2="494.8" stroke="#777" stroke-width="0.8"/><text x="400.3" y="500.0" font-size="15" font-family='"Liberation Sans", sans-serif' font-weight="bold" text-anchor="end" fill="#1a1a1a" letter-spacing="0.4">0.25</text><line x1="404.4" y1="548.1" x2="408.4" y2="548.1" stroke="#777" stroke-width="0.8"/><text x="400.3" y="553.3000000000001" font-size="15" font-family='"Liberation Sans", sans-serif' font-weight="bold" text-anchor="end" fill="#1a1a1a" letter-spacing="0.4">0.125</text><line x1="404.4" y1="601.6" x2="408.4" y2="601.6" stroke="#777" stroke-width="0.8"/><text x="400.3" y="606.8000000000001" font-size="15" font-family='"Liberation Sans", sans-serif' font-weight="bold" text-anchor="end" fill="#1a1a1a" letter-spacing="0.4">0.0</text><text x="531.2" y="447.2" font-size="15.3" font-family='"Liberation Sans", sans-serif' fill="#e06262">0.375</text><text x="531.2" y="500.2" font-size="15.3" font-family='"Liberation Sans", sans-serif' fill="#e06262">0.25</text><text x="531.2" y="554.1999999999999" font-size="15.3" font-family='"Liberation Sans", sans-serif' fill="#e06262">0.125</text><text x="531.2" y="607.1999999999999" font-size="15.3" font-family='"Liberation Sans", sans-serif' fill="#e06262">0.</text><line x1="433.6" y1="605.2" x2="433.6" y2="601.7" stroke="#555" stroke-width="0.8"/><text x="431.7" y="621.4" font-size="14.2" font-family='"Liberation Sans", sans-serif' font-weight="bold" text-anchor="middle" fill="#1a1a1a" letter-spacing="0.3">1.0</text><line x1="461.3" y1="605.2" x2="461.3" y2="601.7" stroke="#555" stroke-width="0.8"/><text x="459.5" y="621.4" font-size="14.2" font-family='"Liberation Sans", sans-serif' font-weight="bold" text-anchor="middle" fill="#1a1a1a" letter-spacing="0.3">1.5</text><line x1="488.5" y1="605.2" x2="488.5" y2="601.7" stroke="#555" stroke-width="0.8"/><text x="489.9" y="621.4" font-size="14.2" font-family='"Liberation Sans", sans-serif' font-weight="bold" text-anchor="middle" fill="#1a1a1a" letter-spacing="0.3">2.0</text><line x1="515.5" y1="605.2" x2="515.5" y2="601.7" stroke="#555" stroke-width="0.8"/><text x="517.9" y="621.4" font-size="14.2" font-family='"Liberation Sans", sans-serif' font-weight="bold" text-anchor="middle" fill="#1a1a1a" letter-spacing="0.3">2.5</text>
<text x="483.6" y="637.0" font-size="15" font-family='"Liberation Sans", sans-serif' text-anchor="middle" fill="#333">angle °</text>
<text x="0" y="0" font-size="16" font-family='"Liberation Sans", sans-serif' font-style="italic" text-anchor="middle" fill="#222" transform="translate(357.4,500.4) rotate(-90)">U / W</text>
<text x="0" y="0" font-size="16" font-family='"Liberation Sans", sans-serif' font-style="italic" text-anchor="middle" fill="#e06262" transform="translate(591.6,504.8) rotate(-90)">W / U</text>
<rect x="663.5" y="407.6" width="321.5" height="198.39999999999998" fill="#fff" stroke="#b8b8b8" stroke-width="1"/>
<line x1="663.5" y1="593.6" x2="668.5" y2="593.6" stroke="#999" stroke-width="0.7"/><line x1="663.5" y1="588.5" x2="666.5" y2="588.5" stroke="#999" stroke-width="0.7"/><line x1="663.5" y1="583.5" x2="666.5" y2="583.5" stroke="#999" stroke-width="0.7"/><line x1="663.5" y1="578.4" x2="666.5" y2="578.4" stroke="#999" stroke-width="0.7"/><line x1="663.5" y1="573.3" x2="666.5" y2="573.3" stroke="#999" stroke-width="0.7"/><line x1="663.5" y1="568.2" x2="668.5" y2="568.2" stroke="#999" stroke-width="0.7"/><line x1="663.5" y1="563.2" x2="666.5" y2="563.2" stroke="#999" stroke-width="0.7"/><line x1="663.5" y1="558.1" x2="666.5" y2="558.1" stroke="#999" stroke-width="0.7"/><line x1="663.5" y1="553.0" x2="666.5" y2="553.0" stroke="#999" stroke-width="0.7"/><line x1="663.5" y1="547.9" x2="666.5" y2="547.9" stroke="#999" stroke-width="0.7"/><line x1="663.5" y1="542.9" x2="668.5" y2="542.9" stroke="#999" stroke-width="0.7"/><line x1="663.5" y1="537.8" x2="666.5" y2="537.8" stroke="#999" stroke-width="0.7"/><line x1="663.5" y1="532.7" x2="666.5" y2="532.7" stroke="#999" stroke-width="0.7"/><line x1="663.5" y1="527.6" x2="666.5" y2="527.6" stroke="#999" stroke-width="0.7"/><line x1="663.5" y1="522.6" x2="666.5" y2="522.6" stroke="#999" stroke-width="0.7"/><line x1="663.5" y1="517.5" x2="668.5" y2="517.5" stroke="#999" stroke-width="0.7"/><line x1="663.5" y1="512.4" x2="666.5" y2="512.4" stroke="#999" stroke-width="0.7"/><line x1="663.5" y1="507.3" x2="666.5" y2="507.3" stroke="#999" stroke-width="0.7"/><line x1="663.5" y1="502.3" x2="666.5" y2="502.3" stroke="#999" stroke-width="0.7"/><line x1="663.5" y1="497.2" x2="666.5" y2="497.2" stroke="#999" stroke-width="0.7"/><line x1="663.5" y1="492.1" x2="668.5" y2="492.1" stroke="#999" stroke-width="0.7"/><line x1="663.5" y1="487.0" x2="666.5" y2="487.0" stroke="#999" stroke-width="0.7"/><line x1="663.5" y1="482.0" x2="666.5" y2="482.0" stroke="#999" stroke-width="0.7"/><line x1="663.5" y1="476.9" x2="666.5" y2="476.9" stroke="#999" stroke-width="0.7"/><line x1="663.5" y1="471.8" x2="666.5" y2="471.8" stroke="#999" stroke-width="0.7"/><line x1="663.5" y1="466.8" x2="668.5" y2="466.8" stroke="#999" stroke-width="0.7"/><line x1="663.5" y1="461.7" x2="666.5" y2="461.7" stroke="#999" stroke-width="0.7"/><line x1="663.5" y1="456.6" x2="666.5" y2="456.6" stroke="#999" stroke-width="0.7"/><line x1="663.5" y1="451.5" x2="666.5" y2="451.5" stroke="#999" stroke-width="0.7"/><line x1="663.5" y1="446.5" x2="666.5" y2="446.5" stroke="#999" stroke-width="0.7"/><line x1="663.5" y1="441.4" x2="668.5" y2="441.4" stroke="#999" stroke-width="0.7"/><line x1="663.5" y1="436.3" x2="666.5" y2="436.3" stroke="#999" stroke-width="0.7"/><line x1="663.5" y1="431.2" x2="666.5" y2="431.2" stroke="#999" stroke-width="0.7"/><line x1="663.5" y1="426.2" x2="666.5" y2="426.2" stroke="#999" stroke-width="0.7"/><line x1="663.5" y1="421.1" x2="666.5" y2="421.1" stroke="#999" stroke-width="0.7"/><line x1="663.5" y1="416.0" x2="668.5" y2="416.0" stroke="#999" stroke-width="0.7"/><line x1="670.0" y1="606.0" x2="670.0" y2="601.0" stroke="#999" stroke-width="0.7"/><line x1="680.6" y1="606.0" x2="680.6" y2="603.0" stroke="#999" stroke-width="0.7"/><line x1="691.3" y1="606.0" x2="691.3" y2="603.0" stroke="#999" stroke-width="0.7"/><line x1="701.9" y1="606.0" x2="701.9" y2="603.0" stroke="#999" stroke-width="0.7"/><line x1="712.6" y1="606.0" x2="712.6" y2="603.0" stroke="#999" stroke-width="0.7"/><line x1="723.2" y1="606.0" x2="723.2" y2="601.0" stroke="#999" stroke-width="0.7"/><line x1="733.8" y1="606.0" x2="733.8" y2="603.0" stroke="#999" stroke-width="0.7"/><line x1="744.5" y1="606.0" x2="744.5" y2="603.0" stroke="#999" stroke-width="0.7"/><line x1="755.1" y1="606.0" x2="755.1" y2="603.0" stroke="#999" stroke-width="0.7"/><line x1="765.8" y1="606.0" x2="765.8" y2="603.0" stroke="#999" stroke-width="0.7"/><line x1="776.4" y1="606.0" x2="776.4" y2="601.0" stroke="#999" stroke-width="0.7"/><line x1="787.0" y1="606.0" x2="787.0" y2="603.0" stroke="#999" stroke-width="0.7"/><line x1="797.7" y1="606.0" x2="797.7" y2="603.0" stroke="#999" stroke-width="0.7"/><line x1="808.3" y1="606.0" x2="808.3" y2="603.0" stroke="#999" stroke-width="0.7"/><line x1="819.0" y1="606.0" x2="819.0" y2="603.0" stroke="#999" stroke-width="0.7"/><line x1="829.6" y1="606.0" x2="829.6" y2="601.0" stroke="#999" stroke-width="0.7"/><line x1="840.2" y1="606.0" x2="840.2" y2="603.0" stroke="#999" stroke-width="0.7"/><line x1="850.9" y1="606.0" x2="850.9" y2="603.0" stroke="#999" stroke-width="0.7"/><line x1="861.5" y1="606.0" x2="861.5" y2="603.0" stroke="#999" stroke-width="0.7"/><line x1="872.2" y1="606.0" x2="872.2" y2="603.0" stroke="#999" stroke-width="0.7"/><line x1="882.8" y1="606.0" x2="882.8" y2="601.0" stroke="#999" stroke-width="0.7"/><line x1="893.4" y1="606.0" x2="893.4" y2="603.0" stroke="#999" stroke-width="0.7"/><line x1="904.1" y1="606.0" x2="904.1" y2="603.0" stroke="#999" stroke-width="0.7"/><line x1="914.7" y1="606.0" x2="914.7" y2="603.0" stroke="#999" stroke-width="0.7"/><line x1="925.4" y1="606.0" x2="925.4" y2="603.0" stroke="#999" stroke-width="0.7"/><line x1="936.0" y1="606.0" x2="936.0" y2="601.0" stroke="#999" stroke-width="0.7"/><line x1="946.6" y1="606.0" x2="946.6" y2="603.0" stroke="#999" stroke-width="0.7"/><line x1="957.3" y1="606.0" x2="957.3" y2="603.0" stroke="#999" stroke-width="0.7"/><line x1="967.9" y1="606.0" x2="967.9" y2="603.0" stroke="#999" stroke-width="0.7"/><line x1="978.6" y1="606.0" x2="978.6" y2="603.0" stroke="#999" stroke-width="0.7"/>
<text x="659.8" y="598.8000000000001" font-size="14.5" font-family='"Liberation Sans", sans-serif' text-anchor="end" fill="#2a2a2a">0.00</text><text x="659.8" y="573.4300000000001" font-size="14.5" font-family='"Liberation Sans", sans-serif' text-anchor="end" fill="#2a2a2a">0.01</text><text x="659.8" y="548.0600000000001" font-size="14.5" font-family='"Liberation Sans", sans-serif' text-anchor="end" fill="#2a2a2a">0.02</text><text x="659.8" y="522.69" font-size="14.5" font-family='"Liberation Sans", sans-serif' text-anchor="end" fill="#2a2a2a">0.03</text><text x="659.8" y="497.32" font-size="14.5" font-family='"Liberation Sans", sans-serif' text-anchor="end" fill="#2a2a2a">0.04</text><text x="659.8" y="471.95" font-size="14.5" font-family='"Liberation Sans", sans-serif' text-anchor="end" fill="#2a2a2a">0.05</text><text x="659.8" y="446.58" font-size="14.5" font-family='"Liberation Sans", sans-serif' text-anchor="end" fill="#2a2a2a">0.06</text><text x="659.8" y="421.21" font-size="14.5" font-family='"Liberation Sans", sans-serif' text-anchor="end" fill="#2a2a2a">0.07</text><text x="670.0" y="623.6" font-size="15" font-family='"Liberation Sans", sans-serif' text-anchor="middle" fill="#2a2a2a">0</text><text x="723.2" y="623.6" font-size="15" font-family='"Liberation Sans", sans-serif' text-anchor="middle" fill="#2a2a2a">5</text><text x="776.4" y="623.6" font-size="15" font-family='"Liberation Sans", sans-serif' text-anchor="middle" fill="#2a2a2a">10</text><text x="829.6" y="623.6" font-size="15" font-family='"Liberation Sans", sans-serif' text-anchor="middle" fill="#2a2a2a">15</text><text x="882.8" y="623.6" font-size="15" font-family='"Liberation Sans", sans-serif' text-anchor="middle" fill="#2a2a2a">20</text><text x="936.0" y="623.6" font-size="15" font-family='"Liberation Sans", sans-serif' text-anchor="middle" fill="#2a2a2a">25</text>
<text x="0" y="0" font-size="15" font-family='"Liberation Sans", sans-serif' text-anchor="middle" fill="#222" transform="translate(623.2,507) rotate(-90)">energy [<tspan font-style='italic'>U</tspan>′]</text>
<text x="797.4" y="647.5" font-size="16" font-family='"Liberation Sans", sans-serif' fill="#222"><tspan font-style="italic">K</tspan><tspan font-size="11" dy="3">2</tspan><tspan dy="-3">+</tspan><tspan font-style="italic">L</tspan><tspan font-size="11" dy="3">2</tspan><tspan dy="-3" font-style="italic">K</tspan><tspan font-size="11" dy="3">1</tspan></text>
<defs><clipPath id="scl"><rect x="663.5" y="407.6" width="321.5" height="198.39999999999998"/></clipPath></defs>
<g clip-path="url(#scl)"><circle cx="670.0" cy="415.5" r="3.5" fill="#0a14a8"/><circle cx="670.0" cy="439" r="3.5" fill="#0a14a8"/><circle cx="680.6" cy="411.8" r="3.5" fill="#0a14a8"/><circle cx="680.6" cy="437.3" r="3.5" fill="#0a14a8"/><circle cx="691.3" cy="419.5" r="3.5" fill="#0a14a8"/><circle cx="691.3" cy="441.5" r="3.5" fill="#0a14a8"/><circle cx="691.3" cy="470.5" r="3.5" fill="#0a14a8"/><circle cx="701.9" cy="412" r="3.5" fill="#0a14a8"/><circle cx="701.9" cy="416" r="3.5" fill="#0a14a8"/><circle cx="712.6" cy="447.8" r="3.5" fill="#0a14a8"/><circle cx="723.2" cy="411.8" r="3.5" fill="#0a14a8"/><circle cx="723.2" cy="436.5" r="3.5" fill="#0a14a8"/><circle cx="733.8" cy="438.2" r="3.5" fill="#0a14a8"/><circle cx="733.8" cy="459" r="3.5" fill="#0a14a8"/><circle cx="744.5" cy="408.7" r="3.5" fill="#0a14a8"/><circle cx="744.5" cy="416" r="3.5" fill="#0a14a8"/><circle cx="744.5" cy="436.5" r="3.5" fill="#0a14a8"/><circle cx="755.1" cy="444.1" r="3.5" fill="#0a14a8"/><circle cx="765.8" cy="432.2" r="3.5" fill="#0a14a8"/><circle cx="776.4" cy="424.6" r="3.5" fill="#0a14a8"/><circle cx="776.4" cy="438.7" r="3.5" fill="#0a14a8"/><circle cx="776.4" cy="458" r="3.5" fill="#0a14a8"/><circle cx="787.0" cy="415.2" r="3.5" fill="#0a14a8"/><circle cx="787.0" cy="438.2" r="3.5" fill="#0a14a8"/><circle cx="797.7" cy="418.6" r="3.5" fill="#0a14a8"/><circle cx="797.7" cy="443.3" r="3.5" fill="#0a14a8"/><circle cx="808.3" cy="409.3" r="3.5" fill="#0a14a8"/><circle cx="808.3" cy="413.5" r="3.5" fill="#0a14a8"/><circle cx="819.0" cy="468.8" r="3.5" fill="#0a14a8"/><circle cx="829.6" cy="409.8" r="3.5" fill="#0a14a8"/><circle cx="829.6" cy="436.1" r="3.5" fill="#0a14a8"/><circle cx="840.2" cy="444.1" r="3.5" fill="#0a14a8"/><circle cx="850.9" cy="412.1" r="3.5" fill="#0a14a8"/><circle cx="850.9" cy="419" r="3.5" fill="#0a14a8"/><circle cx="861.5" cy="424" r="3.5" fill="#0a14a8"/><circle cx="861.5" cy="458" r="3.5" fill="#0a14a8"/><circle cx="893.4" cy="408.7" r="3.5" fill="#0a14a8"/><circle cx="893.4" cy="413.5" r="3.5" fill="#0a14a8"/><circle cx="904.1" cy="425" r="3.5" fill="#0a14a8"/><circle cx="904.1" cy="459" r="3.5" fill="#0a14a8"/><circle cx="914.7" cy="412.1" r="3.5" fill="#0a14a8"/><circle cx="914.7" cy="416" r="3.5" fill="#0a14a8"/><rect x="666.0" y="429" width="8" height="8" fill="#ae0c0c"/><rect x="666.0" y="446.6" width="8" height="8" fill="#ae0c0c"/><rect x="676.6" y="413.2" width="8" height="8" fill="#ae0c0c"/><rect x="676.6" y="427.4" width="8" height="8" fill="#ae0c0c"/><rect x="676.6" y="436.7" width="8" height="8" fill="#ae0c0c"/><rect x="687.3" y="429" width="8" height="8" fill="#ae0c0c"/><rect x="687.3" y="433.3" width="8" height="8" fill="#ae0c0c"/><rect x="687.3" y="461.4" width="8" height="8" fill="#ae0c0c"/><rect x="697.9" y="428.2" width="8" height="8" fill="#ae0c0c"/><rect x="697.9" y="434.2" width="8" height="8" fill="#ae0c0c"/><rect x="697.9" y="461.4" width="8" height="8" fill="#ae0c0c"/><rect x="708.6" y="413.2" width="8" height="8" fill="#ae0c0c"/><rect x="708.6" y="426.5" width="8" height="8" fill="#ae0c0c"/><rect x="708.6" y="436.7" width="8" height="8" fill="#ae0c0c"/><rect x="719.2" y="412" width="8" height="8" fill="#ae0c0c"/><rect x="719.2" y="427.4" width="8" height="8" fill="#ae0c0c"/><rect x="719.2" y="451.2" width="8" height="8" fill="#ae0c0c"/><rect x="729.8" y="413" width="8" height="8" fill="#ae0c0c"/><rect x="729.8" y="422" width="8" height="8" fill="#ae0c0c"/><rect x="729.8" y="441" width="8" height="8" fill="#ae0c0c"/><rect x="740.5" y="422.8" width="8" height="8" fill="#ae0c0c"/><rect x="740.5" y="435" width="8" height="8" fill="#ae0c0c"/><rect x="740.5" y="451.7" width="8" height="8" fill="#ae0c0c"/><rect x="751.1" y="426.2" width="8" height="8" fill="#ae0c0c"/><rect x="751.1" y="436.4" width="8" height="8" fill="#ae0c0c"/><rect x="751.1" y="450" width="8" height="8" fill="#ae0c0c"/><rect x="761.8" y="411" width="8" height="8" fill="#ae0c0c"/><rect x="761.8" y="419.7" width="8" height="8" fill="#ae0c0c"/><rect x="761.8" y="437" width="8" height="8" fill="#ae0c0c"/><rect x="772.4" y="424.5" width="8" height="8" fill="#ae0c0c"/><rect x="772.4" y="445.5" width="8" height="8" fill="#ae0c0c"/><rect x="783.0" y="406" width="8" height="8" fill="#ae0c0c"/><rect x="783.0" y="417.2" width="8" height="8" fill="#ae0c0c"/><rect x="783.0" y="441.5" width="8" height="8" fill="#ae0c0c"/><rect x="793.7" y="430" width="8" height="8" fill="#ae0c0c"/><rect x="793.7" y="435" width="8" height="8" fill="#ae0c0c"/><rect x="793.7" y="447.8" width="8" height="8" fill="#ae0c0c"/><rect x="804.3" y="424.8" width="8" height="8" fill="#ae0c0c"/><rect x="804.3" y="434.2" width="8" height="8" fill="#ae0c0c"/><rect x="804.3" y="445.5" width="8" height="8" fill="#ae0c0c"/><rect x="815.0" y="413" width="8" height="8" fill="#ae0c0c"/><rect x="815.0" y="419.7" width="8" height="8" fill="#ae0c0c"/><rect x="815.0" y="432.5" width="8" height="8" fill="#ae0c0c"/><rect x="825.6" y="411.5" width="8" height="8" fill="#ae0c0c"/><rect x="825.6" y="417.2" width="8" height="8" fill="#ae0c0c"/><rect x="825.6" y="452.9" width="8" height="8" fill="#ae0c0c"/><rect x="836.2" y="411.5" width="8" height="8" fill="#ae0c0c"/><rect x="836.2" y="418" width="8" height="8" fill="#ae0c0c"/><rect x="836.2" y="423" width="8" height="8" fill="#ae0c0c"/><rect x="836.2" y="428.2" width="8" height="8" fill="#ae0c0c"/><rect x="846.9" y="424.8" width="8" height="8" fill="#ae0c0c"/><rect x="846.9" y="434.7" width="8" height="8" fill="#ae0c0c"/><rect x="846.9" y="446" width="8" height="8" fill="#ae0c0c"/><rect x="857.5" y="424.8" width="8" height="8" fill="#ae0c0c"/><rect x="857.5" y="434.7" width="8" height="8" fill="#ae0c0c"/><rect x="857.5" y="446" width="8" height="8" fill="#ae0c0c"/><rect x="868.2" y="412.6" width="8" height="8" fill="#ae0c0c"/><rect x="868.2" y="418" width="8" height="8" fill="#ae0c0c"/><rect x="868.2" y="423" width="8" height="8" fill="#ae0c0c"/><rect x="868.2" y="428.2" width="8" height="8" fill="#ae0c0c"/><rect x="878.8" y="424.8" width="8" height="8" fill="#ae0c0c"/><rect x="878.8" y="445.2" width="8" height="8" fill="#ae0c0c"/><rect x="889.4" y="412.9" width="8" height="8" fill="#ae0c0c"/><rect x="889.4" y="421.4" width="8" height="8" fill="#ae0c0c"/><rect x="889.4" y="432.1" width="8" height="8" fill="#ae0c0c"/><rect x="900.1" y="424.8" width="8" height="8" fill="#ae0c0c"/><rect x="900.1" y="434.2" width="8" height="8" fill="#ae0c0c"/><rect x="900.1" y="445.7" width="8" height="8" fill="#ae0c0c"/><rect x="910.7" y="428" width="8" height="8" fill="#ae0c0c"/><rect x="910.7" y="436.7" width="8" height="8" fill="#ae0c0c"/><rect x="910.7" y="447.8" width="8" height="8" fill="#ae0c0c"/><rect x="921.4" y="406" width="8" height="8" fill="#ae0c0c"/><rect x="921.4" y="417.2" width="8" height="8" fill="#ae0c0c"/><rect x="921.4" y="441.5" width="8" height="8" fill="#ae0c0c"/><rect x="932.0" y="412.9" width="8" height="8" fill="#ae0c0c"/><rect x="932.0" y="427.4" width="8" height="8" fill="#ae0c0c"/><rect x="932.0" y="451.2" width="8" height="8" fill="#ae0c0c"/><rect x="942.6" y="411" width="8" height="8" fill="#ae0c0c"/><rect x="942.6" y="422" width="8" height="8" fill="#ae0c0c"/><rect x="942.6" y="437" width="8" height="8" fill="#ae0c0c"/><rect x="953.3" y="425.7" width="8" height="8" fill="#ae0c0c"/><rect x="953.3" y="435.9" width="8" height="8" fill="#ae0c0c"/><rect x="953.3" y="449.5" width="8" height="8" fill="#ae0c0c"/><rect x="963.9" y="422.3" width="8" height="8" fill="#ae0c0c"/><rect x="963.9" y="435.9" width="8" height="8" fill="#ae0c0c"/><rect x="963.9" y="451.2" width="8" height="8" fill="#ae0c0c"/><rect x="974.6" y="413.8" width="8" height="8" fill="#ae0c0c"/><rect x="974.6" y="422.3" width="8" height="8" fill="#ae0c0c"/><rect x="974.6" y="441" width="8" height="8" fill="#ae0c0c"/><circle cx="670.0" cy="593.6" r="3.5" fill="#0a14a8"/><circle cx="755.1" cy="593.6" r="3.5" fill="#0a14a8"/><circle cx="840.2" cy="593.6" r="3.5" fill="#0a14a8"/><rect x="666.0" y="589.0" width="8" height="8" fill="#ae0c0c"/><rect x="772.4" y="589.0" width="8" height="8" fill="#ae0c0c"/><rect x="878.8" y="589.0" width="8" height="8" fill="#ae0c0c"/></g>
<rect x="669.3" y="486.8" width="68" height="44.4" fill="#d0d0d0" opacity="0.6"/>
<rect x="667.8" y="485.0" width="67.8" height="44.2" fill="#f3f3f3" stroke="#a8a8a8" stroke-width="1.2"/>
<circle cx="680.6" cy="497.6" r="3.6" fill="#0a14a8"/>
<rect x="676.6" y="511.6" width="8" height="8" fill="#ae0c0c"/>
<text x="692" y="502.6" font-size="14" font-family='"Liberation Sans", sans-serif' fill="#222"><tspan font-style="italic">L</tspan> = 24</text>
<text x="692" y="520.6" font-size="14" font-family='"Liberation Sans", sans-serif' fill="#222"><tspan font-style="italic">L</tspan> = 30</text>
<rect x="765.3" y="480.7" width="211.20000000000005" height="70.19999999999999" fill="#fff" stroke="#aaa" stroke-width="1"/>
<line x1="774.5" y1="550.9" x2="774.5" y2="547.9" stroke="#999" stroke-width="0.7"/><line x1="840.4" y1="550.9" x2="840.4" y2="547.9" stroke="#999" stroke-width="0.7"/><line x1="906.3" y1="550.9" x2="906.3" y2="547.9" stroke="#999" stroke-width="0.7"/><line x1="972.2" y1="550.9" x2="972.2" y2="547.9" stroke="#999" stroke-width="0.7"/>
<polyline points="774.5,484.2 781.1,486.9 787.7,493.8 794.3,502.4 800.9,509.3 807.5,512.0 814.0,509.3 820.6,502.4 827.2,493.8 833.8,486.9 840.4,484.2 847.0,486.9 853.6,493.8 860.2,502.4 866.8,509.3 873.4,512.0 879.9,509.3 886.5,502.4 893.1,493.8 899.7,486.9 906.3,484.2 912.9,486.9 919.5,493.8 926.1,502.4 932.7,509.3 939.2,512.0 945.8,509.3 952.4,502.4 959.0,493.8 965.6,486.9 972.2,484.2" fill="none" stroke="#999" stroke-width="0.8"/><polyline points="774.5,507.2 781.1,508.0 787.7,510.2 794.3,513.0 800.9,515.2 807.5,516.0 814.0,515.2 820.6,513.0 827.2,510.2 833.8,508.0 840.4,507.2 847.0,508.0 853.6,510.2 860.2,513.0 866.8,515.2 873.4,516.0 879.9,515.2 886.5,513.0 893.1,510.2 899.7,508.0 906.3,507.2 912.9,508.0 919.5,510.2 926.1,513.0 932.7,515.2 939.2,516.0 945.8,515.2 952.4,513.0 959.0,510.2 965.6,508.0 972.2,507.2" fill="none" stroke="#999" stroke-width="0.8"/><polyline points="774.5,516.3 781.1,519.3 787.7,527.3 794.3,537.1 800.9,545.1 807.5,548.1 814.0,545.1 820.6,537.1 827.2,527.3 833.8,519.3 840.4,516.3 847.0,519.3 853.6,527.3 860.2,537.1 866.8,545.1 873.4,548.1 879.9,545.1 886.5,537.1 893.1,527.3 899.7,519.3 906.3,516.3 912.9,519.3 919.5,527.3 926.1,537.1 932.7,545.1 939.2,548.1 945.8,545.1 952.4,537.1 959.0,527.3 965.6,519.3 972.2,516.3" fill="none" stroke="#999" stroke-width="0.8"/>
<line x1="765.3" y1="513.0" x2="976.5" y2="513.0" stroke="#444" stroke-width="1.2"/>
<rect x="772.6" y="482.3" width="3.8" height="3.8" fill="#555" transform="rotate(45 774.5 484.2)"/><rect x="779.2" y="485.0" width="3.8" height="3.8" fill="#555" transform="rotate(45 781.1 486.9)"/><rect x="785.8" y="491.9" width="3.8" height="3.8" fill="#555" transform="rotate(45 787.7 493.8)"/><rect x="792.4" y="500.5" width="3.8" height="3.8" fill="#555" transform="rotate(45 794.3 502.4)"/><rect x="799.0" y="507.4" width="3.8" height="3.8" fill="#555" transform="rotate(45 800.9 509.3)"/><rect x="805.6" y="510.1" width="3.8" height="3.8" fill="#555" transform="rotate(45 807.5 512.0)"/><rect x="812.1" y="507.4" width="3.8" height="3.8" fill="#555" transform="rotate(45 814.0 509.3)"/><rect x="818.7" y="500.5" width="3.8" height="3.8" fill="#555" transform="rotate(45 820.6 502.4)"/><rect x="825.3" y="491.9" width="3.8" height="3.8" fill="#555" transform="rotate(45 827.2 493.8)"/><rect x="831.9" y="485.0" width="3.8" height="3.8" fill="#555" transform="rotate(45 833.8 486.9)"/><rect x="838.5" y="482.3" width="3.8" height="3.8" fill="#555" transform="rotate(45 840.4 484.2)"/><rect x="845.1" y="485.0" width="3.8" height="3.8" fill="#555" transform="rotate(45 847.0 486.9)"/><rect x="851.7" y="491.9" width="3.8" height="3.8" fill="#555" transform="rotate(45 853.6 493.8)"/><rect x="858.3" y="500.5" width="3.8" height="3.8" fill="#555" transform="rotate(45 860.2 502.4)"/><rect x="864.9" y="507.4" width="3.8" height="3.8" fill="#555" transform="rotate(45 866.8 509.3)"/><rect x="871.5" y="510.1" width="3.8" height="3.8" fill="#555" transform="rotate(45 873.4 512.0)"/><rect x="878.0" y="507.4" width="3.8" height="3.8" fill="#555" transform="rotate(45 879.9 509.3)"/><rect x="884.6" y="500.5" width="3.8" height="3.8" fill="#555" transform="rotate(45 886.5 502.4)"/><rect x="891.2" y="491.9" width="3.8" height="3.8" fill="#555" transform="rotate(45 893.1 493.8)"/><rect x="897.8" y="485.0" width="3.8" height="3.8" fill="#555" transform="rotate(45 899.7 486.9)"/><rect x="904.4" y="482.3" width="3.8" height="3.8" fill="#555" transform="rotate(45 906.3 484.2)"/><rect x="911.0" y="485.0" width="3.8" height="3.8" fill="#555" transform="rotate(45 912.9 486.9)"/><rect x="917.6" y="491.9" width="3.8" height="3.8" fill="#555" transform="rotate(45 919.5 493.8)"/><rect x="924.2" y="500.5" width="3.8" height="3.8" fill="#555" transform="rotate(45 926.1 502.4)"/><rect x="930.8" y="507.4" width="3.8" height="3.8" fill="#555" transform="rotate(45 932.7 509.3)"/><rect x="937.4" y="510.1" width="3.8" height="3.8" fill="#555" transform="rotate(45 939.2 512.0)"/><rect x="943.9" y="507.4" width="3.8" height="3.8" fill="#555" transform="rotate(45 945.8 509.3)"/><rect x="950.5" y="500.5" width="3.8" height="3.8" fill="#555" transform="rotate(45 952.4 502.4)"/><rect x="957.1" y="491.9" width="3.8" height="3.8" fill="#555" transform="rotate(45 959.0 493.8)"/><rect x="963.7" y="485.0" width="3.8" height="3.8" fill="#555" transform="rotate(45 965.6 486.9)"/><rect x="970.3" y="482.3" width="3.8" height="3.8" fill="#555" transform="rotate(45 972.2 484.2)"/><rect x="772.2" y="504.9" width="4.6" height="4.6" fill="#666"/><rect x="778.8" y="505.7" width="4.6" height="4.6" fill="#666"/><rect x="785.4" y="507.9" width="4.6" height="4.6" fill="#666"/><rect x="792.0" y="510.7" width="4.6" height="4.6" fill="#666"/><rect x="798.6" y="512.9" width="4.6" height="4.6" fill="#666"/><rect x="805.2" y="513.7" width="4.6" height="4.6" fill="#666"/><rect x="811.7" y="512.9" width="4.6" height="4.6" fill="#666"/><rect x="818.3" y="510.7" width="4.6" height="4.6" fill="#666"/><rect x="824.9" y="507.9" width="4.6" height="4.6" fill="#666"/><rect x="831.5" y="505.7" width="4.6" height="4.6" fill="#666"/><rect x="838.1" y="504.9" width="4.6" height="4.6" fill="#666"/><rect x="844.7" y="505.7" width="4.6" height="4.6" fill="#666"/><rect x="851.3" y="507.9" width="4.6" height="4.6" fill="#666"/><rect x="857.9" y="510.7" width="4.6" height="4.6" fill="#666"/><rect x="864.5" y="512.9" width="4.6" height="4.6" fill="#666"/><rect x="871.1" y="513.7" width="4.6" height="4.6" fill="#666"/><rect x="877.6" y="512.9" width="4.6" height="4.6" fill="#666"/><rect x="884.2" y="510.7" width="4.6" height="4.6" fill="#666"/><rect x="890.8" y="507.9" width="4.6" height="4.6" fill="#666"/><rect x="897.4" y="505.7" width="4.6" height="4.6" fill="#666"/><rect x="904.0" y="504.9" width="4.6" height="4.6" fill="#666"/><rect x="910.6" y="505.7" width="4.6" height="4.6" fill="#666"/><rect x="917.2" y="507.9" width="4.6" height="4.6" fill="#666"/><rect x="923.8" y="510.7" width="4.6" height="4.6" fill="#666"/><rect x="930.4" y="512.9" width="4.6" height="4.6" fill="#666"/><rect x="937.0" y="513.7" width="4.6" height="4.6" fill="#666"/><rect x="943.5" y="512.9" width="4.6" height="4.6" fill="#666"/><rect x="950.1" y="510.7" width="4.6" height="4.6" fill="#666"/><rect x="956.7" y="507.9" width="4.6" height="4.6" fill="#666"/><rect x="963.3" y="505.7" width="4.6" height="4.6" fill="#666"/><rect x="969.9" y="504.9" width="4.6" height="4.6" fill="#666"/><circle cx="774.5" cy="516.3" r="2.4" fill="#555"/><circle cx="781.1" cy="519.3" r="2.4" fill="#555"/><circle cx="787.7" cy="527.3" r="2.4" fill="#555"/><circle cx="794.3" cy="537.1" r="2.4" fill="#555"/><circle cx="800.9" cy="545.1" r="2.4" fill="#555"/><circle cx="807.5" cy="548.1" r="2.4" fill="#555"/><circle cx="814.0" cy="545.1" r="2.4" fill="#555"/><circle cx="820.6" cy="537.1" r="2.4" fill="#555"/><circle cx="827.2" cy="527.3" r="2.4" fill="#555"/><circle cx="833.8" cy="519.3" r="2.4" fill="#555"/><circle cx="840.4" cy="516.3" r="2.4" fill="#555"/><circle cx="847.0" cy="519.3" r="2.4" fill="#555"/><circle cx="853.6" cy="527.3" r="2.4" fill="#555"/><circle cx="860.2" cy="537.1" r="2.4" fill="#555"/><circle cx="866.8" cy="545.1" r="2.4" fill="#555"/><circle cx="873.4" cy="548.1" r="2.4" fill="#555"/><circle cx="879.9" cy="545.1" r="2.4" fill="#555"/><circle cx="886.5" cy="537.1" r="2.4" fill="#555"/><circle cx="893.1" cy="527.3" r="2.4" fill="#555"/><circle cx="899.7" cy="519.3" r="2.4" fill="#555"/><circle cx="906.3" cy="516.3" r="2.4" fill="#555"/><circle cx="912.9" cy="519.3" r="2.4" fill="#555"/><circle cx="919.5" cy="527.3" r="2.4" fill="#555"/><circle cx="926.1" cy="537.1" r="2.4" fill="#555"/><circle cx="932.7" cy="545.1" r="2.4" fill="#555"/><circle cx="939.2" cy="548.1" r="2.4" fill="#555"/><circle cx="945.8" cy="545.1" r="2.4" fill="#555"/><circle cx="952.4" cy="537.1" r="2.4" fill="#555"/><circle cx="959.0" cy="527.3" r="2.4" fill="#555"/><circle cx="965.6" cy="519.3" r="2.4" fill="#555"/><circle cx="972.2" cy="516.3" r="2.4" fill="#555"/>
<text x="761.4" y="566.6" font-size="13" font-family='"Liberation Sans", sans-serif' fill="#222"><tspan font-style="italic">Φ</tspan> = 0</text>
<text x="833.2" y="566.6" font-size="13" font-family='"Liberation Sans", sans-serif' fill="#222">2<tspan font-style="italic">π</tspan></text>
<text x="899.4" y="566.6" font-size="13" font-family='"Liberation Sans", sans-serif' fill="#222">4<tspan font-style="italic">π</tspan></text>
<text x="965.4" y="566.6" font-size="13" font-family='"Liberation Sans", sans-serif' fill="#222">6<tspan font-style="italic">π</tspan></text>
</svg>
</body></html>
